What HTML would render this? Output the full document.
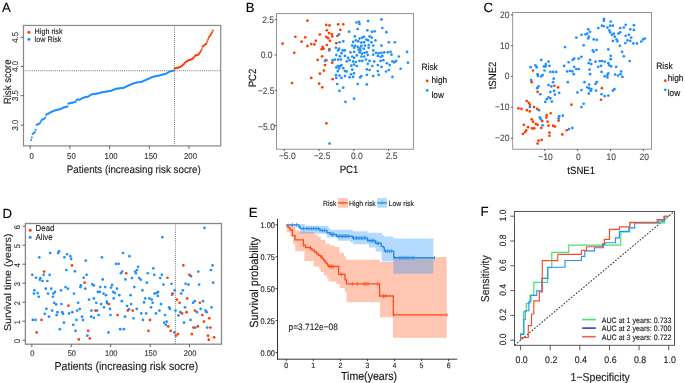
<!DOCTYPE html>
<html><head><meta charset="utf-8"><style>
html,body{margin:0;padding:0;background:#fff;}
svg{display:block;will-change:transform;}
text{font-family:"Liberation Sans", sans-serif;text-rendering:geometricPrecision;stroke:currentColor;stroke-width:0.12px;}
</style></head><body>
<svg width="685" height="383" viewBox="0 0 685 383">
<rect width="685" height="383" fill="#fff"/>
<text x="0" y="0" font-size="13.2" text-anchor="start" fill="#000" color="#000" transform="translate(2.00 12.30) scale(1.0 1.0)" stroke="#000" stroke-width="0.22">A</text>
<line x1="23.50" y1="70.75" x2="220.70" y2="70.75" stroke="#555" stroke-width="1.0" stroke-dasharray="0.8 1.3"/>
<line x1="174.50" y1="25.45" x2="174.50" y2="145.90" stroke="#555" stroke-width="1.0" stroke-dasharray="0.8 1.3"/>
<circle cx="30.99" cy="139.90" r="1.0" fill="#1E8FFF"/>
<circle cx="31.79" cy="137.45" r="1.0" fill="#1E8FFF"/>
<circle cx="32.58" cy="134.03" r="1.0" fill="#1E8FFF"/>
<circle cx="33.38" cy="133.37" r="1.0" fill="#1E8FFF"/>
<circle cx="34.17" cy="132.70" r="1.0" fill="#1E8FFF"/>
<circle cx="34.96" cy="132.03" r="1.0" fill="#1E8FFF"/>
<circle cx="35.76" cy="129.76" r="1.0" fill="#1E8FFF"/>
<circle cx="36.55" cy="124.76" r="1.0" fill="#1E8FFF"/>
<circle cx="37.35" cy="124.45" r="1.0" fill="#1E8FFF"/>
<circle cx="38.14" cy="124.15" r="1.0" fill="#1E8FFF"/>
<circle cx="38.93" cy="123.84" r="1.0" fill="#1E8FFF"/>
<circle cx="39.73" cy="123.53" r="1.0" fill="#1E8FFF"/>
<circle cx="40.52" cy="122.01" r="1.0" fill="#1E8FFF"/>
<circle cx="41.32" cy="120.38" r="1.0" fill="#1E8FFF"/>
<circle cx="42.11" cy="119.70" r="1.0" fill="#1E8FFF"/>
<circle cx="42.90" cy="119.30" r="1.0" fill="#1E8FFF"/>
<circle cx="43.70" cy="118.90" r="1.0" fill="#1E8FFF"/>
<circle cx="44.49" cy="118.50" r="1.0" fill="#1E8FFF"/>
<circle cx="45.29" cy="117.61" r="1.0" fill="#1E8FFF"/>
<circle cx="46.08" cy="115.08" r="1.0" fill="#1E8FFF"/>
<circle cx="46.87" cy="114.33" r="1.0" fill="#1E8FFF"/>
<circle cx="47.67" cy="113.90" r="1.0" fill="#1E8FFF"/>
<circle cx="48.46" cy="113.46" r="1.0" fill="#1E8FFF"/>
<circle cx="49.26" cy="113.03" r="1.0" fill="#1E8FFF"/>
<circle cx="50.05" cy="112.59" r="1.0" fill="#1E8FFF"/>
<circle cx="50.84" cy="112.16" r="1.0" fill="#1E8FFF"/>
<circle cx="51.64" cy="111.75" r="1.0" fill="#1E8FFF"/>
<circle cx="52.43" cy="111.44" r="1.0" fill="#1E8FFF"/>
<circle cx="53.23" cy="111.14" r="1.0" fill="#1E8FFF"/>
<circle cx="54.02" cy="110.83" r="1.0" fill="#1E8FFF"/>
<circle cx="54.81" cy="110.53" r="1.0" fill="#1E8FFF"/>
<circle cx="55.61" cy="110.23" r="1.0" fill="#1E8FFF"/>
<circle cx="56.40" cy="109.97" r="1.0" fill="#1E8FFF"/>
<circle cx="57.20" cy="109.83" r="1.0" fill="#1E8FFF"/>
<circle cx="57.99" cy="109.70" r="1.0" fill="#1E8FFF"/>
<circle cx="58.78" cy="109.57" r="1.0" fill="#1E8FFF"/>
<circle cx="59.58" cy="109.44" r="1.0" fill="#1E8FFF"/>
<circle cx="60.37" cy="109.11" r="1.0" fill="#1E8FFF"/>
<circle cx="61.17" cy="108.70" r="1.0" fill="#1E8FFF"/>
<circle cx="61.96" cy="108.29" r="1.0" fill="#1E8FFF"/>
<circle cx="62.75" cy="107.88" r="1.0" fill="#1E8FFF"/>
<circle cx="63.55" cy="107.55" r="1.0" fill="#1E8FFF"/>
<circle cx="64.34" cy="107.37" r="1.0" fill="#1E8FFF"/>
<circle cx="65.14" cy="107.20" r="1.0" fill="#1E8FFF"/>
<circle cx="65.93" cy="107.02" r="1.0" fill="#1E8FFF"/>
<circle cx="66.72" cy="106.85" r="1.0" fill="#1E8FFF"/>
<circle cx="67.52" cy="106.29" r="1.0" fill="#1E8FFF"/>
<circle cx="68.31" cy="103.60" r="1.0" fill="#1E8FFF"/>
<circle cx="69.11" cy="103.40" r="1.0" fill="#1E8FFF"/>
<circle cx="69.90" cy="103.21" r="1.0" fill="#1E8FFF"/>
<circle cx="70.69" cy="103.02" r="1.0" fill="#1E8FFF"/>
<circle cx="71.49" cy="102.83" r="1.0" fill="#1E8FFF"/>
<circle cx="72.28" cy="102.63" r="1.0" fill="#1E8FFF"/>
<circle cx="73.08" cy="102.44" r="1.0" fill="#1E8FFF"/>
<circle cx="73.87" cy="102.25" r="1.0" fill="#1E8FFF"/>
<circle cx="74.66" cy="102.05" r="1.0" fill="#1E8FFF"/>
<circle cx="75.46" cy="101.68" r="1.0" fill="#1E8FFF"/>
<circle cx="76.25" cy="100.58" r="1.0" fill="#1E8FFF"/>
<circle cx="77.05" cy="99.47" r="1.0" fill="#1E8FFF"/>
<circle cx="77.84" cy="99.47" r="1.0" fill="#1E8FFF"/>
<circle cx="78.63" cy="99.55" r="1.0" fill="#1E8FFF"/>
<circle cx="79.43" cy="99.63" r="1.0" fill="#1E8FFF"/>
<circle cx="80.22" cy="99.62" r="1.0" fill="#1E8FFF"/>
<circle cx="81.02" cy="99.12" r="1.0" fill="#1E8FFF"/>
<circle cx="81.81" cy="98.62" r="1.0" fill="#1E8FFF"/>
<circle cx="82.60" cy="98.12" r="1.0" fill="#1E8FFF"/>
<circle cx="83.40" cy="97.82" r="1.0" fill="#1E8FFF"/>
<circle cx="84.19" cy="97.59" r="1.0" fill="#1E8FFF"/>
<circle cx="84.99" cy="97.35" r="1.0" fill="#1E8FFF"/>
<circle cx="85.78" cy="97.12" r="1.0" fill="#1E8FFF"/>
<circle cx="86.57" cy="96.89" r="1.0" fill="#1E8FFF"/>
<circle cx="87.37" cy="96.65" r="1.0" fill="#1E8FFF"/>
<circle cx="88.16" cy="96.42" r="1.0" fill="#1E8FFF"/>
<circle cx="88.96" cy="96.16" r="1.0" fill="#1E8FFF"/>
<circle cx="89.75" cy="95.61" r="1.0" fill="#1E8FFF"/>
<circle cx="90.54" cy="95.06" r="1.0" fill="#1E8FFF"/>
<circle cx="91.34" cy="94.51" r="1.0" fill="#1E8FFF"/>
<circle cx="92.13" cy="94.30" r="1.0" fill="#1E8FFF"/>
<circle cx="92.93" cy="94.18" r="1.0" fill="#1E8FFF"/>
<circle cx="93.72" cy="94.06" r="1.0" fill="#1E8FFF"/>
<circle cx="94.51" cy="93.95" r="1.0" fill="#1E8FFF"/>
<circle cx="95.31" cy="93.83" r="1.0" fill="#1E8FFF"/>
<circle cx="96.10" cy="93.71" r="1.0" fill="#1E8FFF"/>
<circle cx="96.90" cy="93.58" r="1.0" fill="#1E8FFF"/>
<circle cx="97.69" cy="93.38" r="1.0" fill="#1E8FFF"/>
<circle cx="98.48" cy="93.18" r="1.0" fill="#1E8FFF"/>
<circle cx="99.28" cy="92.98" r="1.0" fill="#1E8FFF"/>
<circle cx="100.07" cy="92.78" r="1.0" fill="#1E8FFF"/>
<circle cx="100.87" cy="92.58" r="1.0" fill="#1E8FFF"/>
<circle cx="101.66" cy="92.38" r="1.0" fill="#1E8FFF"/>
<circle cx="102.45" cy="92.23" r="1.0" fill="#1E8FFF"/>
<circle cx="103.25" cy="92.10" r="1.0" fill="#1E8FFF"/>
<circle cx="104.04" cy="91.98" r="1.0" fill="#1E8FFF"/>
<circle cx="104.84" cy="91.85" r="1.0" fill="#1E8FFF"/>
<circle cx="105.63" cy="91.72" r="1.0" fill="#1E8FFF"/>
<circle cx="106.42" cy="91.60" r="1.0" fill="#1E8FFF"/>
<circle cx="107.22" cy="91.47" r="1.0" fill="#1E8FFF"/>
<circle cx="108.01" cy="91.34" r="1.0" fill="#1E8FFF"/>
<circle cx="108.81" cy="91.22" r="1.0" fill="#1E8FFF"/>
<circle cx="109.60" cy="91.09" r="1.0" fill="#1E8FFF"/>
<circle cx="110.39" cy="90.96" r="1.0" fill="#1E8FFF"/>
<circle cx="111.19" cy="90.74" r="1.0" fill="#1E8FFF"/>
<circle cx="111.98" cy="90.42" r="1.0" fill="#1E8FFF"/>
<circle cx="112.78" cy="90.10" r="1.0" fill="#1E8FFF"/>
<circle cx="113.57" cy="89.78" r="1.0" fill="#1E8FFF"/>
<circle cx="114.36" cy="89.46" r="1.0" fill="#1E8FFF"/>
<circle cx="115.16" cy="89.14" r="1.0" fill="#1E8FFF"/>
<circle cx="115.95" cy="88.82" r="1.0" fill="#1E8FFF"/>
<circle cx="116.75" cy="88.70" r="1.0" fill="#1E8FFF"/>
<circle cx="117.54" cy="88.60" r="1.0" fill="#1E8FFF"/>
<circle cx="118.33" cy="88.50" r="1.0" fill="#1E8FFF"/>
<circle cx="119.13" cy="88.40" r="1.0" fill="#1E8FFF"/>
<circle cx="119.92" cy="88.30" r="1.0" fill="#1E8FFF"/>
<circle cx="120.72" cy="88.20" r="1.0" fill="#1E8FFF"/>
<circle cx="121.51" cy="88.09" r="1.0" fill="#1E8FFF"/>
<circle cx="122.30" cy="87.99" r="1.0" fill="#1E8FFF"/>
<circle cx="123.10" cy="87.89" r="1.0" fill="#1E8FFF"/>
<circle cx="123.89" cy="87.75" r="1.0" fill="#1E8FFF"/>
<circle cx="124.69" cy="87.36" r="1.0" fill="#1E8FFF"/>
<circle cx="125.48" cy="86.97" r="1.0" fill="#1E8FFF"/>
<circle cx="126.27" cy="86.58" r="1.0" fill="#1E8FFF"/>
<circle cx="127.07" cy="86.19" r="1.0" fill="#1E8FFF"/>
<circle cx="127.86" cy="85.80" r="1.0" fill="#1E8FFF"/>
<circle cx="128.66" cy="85.41" r="1.0" fill="#1E8FFF"/>
<circle cx="129.45" cy="85.02" r="1.0" fill="#1E8FFF"/>
<circle cx="130.24" cy="84.68" r="1.0" fill="#1E8FFF"/>
<circle cx="131.04" cy="84.39" r="1.0" fill="#1E8FFF"/>
<circle cx="131.83" cy="84.10" r="1.0" fill="#1E8FFF"/>
<circle cx="132.63" cy="83.82" r="1.0" fill="#1E8FFF"/>
<circle cx="133.42" cy="83.53" r="1.0" fill="#1E8FFF"/>
<circle cx="134.21" cy="83.24" r="1.0" fill="#1E8FFF"/>
<circle cx="135.01" cy="82.96" r="1.0" fill="#1E8FFF"/>
<circle cx="135.80" cy="82.67" r="1.0" fill="#1E8FFF"/>
<circle cx="136.60" cy="82.53" r="1.0" fill="#1E8FFF"/>
<circle cx="137.39" cy="82.44" r="1.0" fill="#1E8FFF"/>
<circle cx="138.18" cy="82.35" r="1.0" fill="#1E8FFF"/>
<circle cx="138.98" cy="82.26" r="1.0" fill="#1E8FFF"/>
<circle cx="139.77" cy="82.17" r="1.0" fill="#1E8FFF"/>
<circle cx="140.57" cy="82.08" r="1.0" fill="#1E8FFF"/>
<circle cx="141.36" cy="81.97" r="1.0" fill="#1E8FFF"/>
<circle cx="142.15" cy="81.60" r="1.0" fill="#1E8FFF"/>
<circle cx="142.95" cy="81.23" r="1.0" fill="#1E8FFF"/>
<circle cx="143.74" cy="80.86" r="1.0" fill="#1E8FFF"/>
<circle cx="144.54" cy="80.49" r="1.0" fill="#1E8FFF"/>
<circle cx="145.33" cy="80.13" r="1.0" fill="#1E8FFF"/>
<circle cx="146.12" cy="79.77" r="1.0" fill="#1E8FFF"/>
<circle cx="146.92" cy="79.42" r="1.0" fill="#1E8FFF"/>
<circle cx="147.71" cy="79.08" r="1.0" fill="#1E8FFF"/>
<circle cx="148.51" cy="78.73" r="1.0" fill="#1E8FFF"/>
<circle cx="149.30" cy="78.38" r="1.0" fill="#1E8FFF"/>
<circle cx="150.09" cy="78.04" r="1.0" fill="#1E8FFF"/>
<circle cx="150.89" cy="77.69" r="1.0" fill="#1E8FFF"/>
<circle cx="151.68" cy="77.34" r="1.0" fill="#1E8FFF"/>
<circle cx="152.48" cy="77.00" r="1.0" fill="#1E8FFF"/>
<circle cx="153.27" cy="76.78" r="1.0" fill="#1E8FFF"/>
<circle cx="154.06" cy="76.61" r="1.0" fill="#1E8FFF"/>
<circle cx="154.86" cy="76.44" r="1.0" fill="#1E8FFF"/>
<circle cx="155.65" cy="76.27" r="1.0" fill="#1E8FFF"/>
<circle cx="156.45" cy="76.10" r="1.0" fill="#1E8FFF"/>
<circle cx="157.24" cy="75.93" r="1.0" fill="#1E8FFF"/>
<circle cx="158.03" cy="75.76" r="1.0" fill="#1E8FFF"/>
<circle cx="158.83" cy="75.59" r="1.0" fill="#1E8FFF"/>
<circle cx="159.62" cy="75.39" r="1.0" fill="#1E8FFF"/>
<circle cx="160.42" cy="75.18" r="1.0" fill="#1E8FFF"/>
<circle cx="161.21" cy="74.98" r="1.0" fill="#1E8FFF"/>
<circle cx="162.00" cy="74.78" r="1.0" fill="#1E8FFF"/>
<circle cx="162.80" cy="74.57" r="1.0" fill="#1E8FFF"/>
<circle cx="163.59" cy="74.37" r="1.0" fill="#1E8FFF"/>
<circle cx="164.39" cy="74.16" r="1.0" fill="#1E8FFF"/>
<circle cx="165.18" cy="73.96" r="1.0" fill="#1E8FFF"/>
<circle cx="165.97" cy="73.69" r="1.0" fill="#1E8FFF"/>
<circle cx="166.77" cy="73.17" r="1.0" fill="#1E8FFF"/>
<circle cx="167.56" cy="72.65" r="1.0" fill="#1E8FFF"/>
<circle cx="168.36" cy="72.13" r="1.0" fill="#1E8FFF"/>
<circle cx="169.15" cy="71.87" r="1.0" fill="#1E8FFF"/>
<circle cx="169.94" cy="71.62" r="1.0" fill="#1E8FFF"/>
<circle cx="170.74" cy="71.37" r="1.0" fill="#1E8FFF"/>
<circle cx="171.53" cy="71.12" r="1.0" fill="#1E8FFF"/>
<circle cx="172.33" cy="70.88" r="1.0" fill="#1E8FFF"/>
<circle cx="173.12" cy="70.63" r="1.0" fill="#1E8FFF"/>
<circle cx="173.91" cy="70.38" r="1.0" fill="#1E8FFF"/>
<circle cx="174.71" cy="68.50" r="1.0" fill="#FF3B00"/>
<circle cx="175.50" cy="68.29" r="1.0" fill="#FF3B00"/>
<circle cx="176.30" cy="68.08" r="1.0" fill="#FF3B00"/>
<circle cx="177.09" cy="67.87" r="1.0" fill="#FF3B00"/>
<circle cx="177.88" cy="67.66" r="1.0" fill="#FF3B00"/>
<circle cx="178.68" cy="67.45" r="1.0" fill="#FF3B00"/>
<circle cx="179.47" cy="67.24" r="1.0" fill="#FF3B00"/>
<circle cx="180.27" cy="67.04" r="1.0" fill="#FF3B00"/>
<circle cx="181.06" cy="66.46" r="1.0" fill="#FF3B00"/>
<circle cx="181.85" cy="65.82" r="1.0" fill="#FF3B00"/>
<circle cx="182.65" cy="65.17" r="1.0" fill="#FF3B00"/>
<circle cx="183.44" cy="64.46" r="1.0" fill="#FF3B00"/>
<circle cx="184.24" cy="63.66" r="1.0" fill="#FF3B00"/>
<circle cx="185.03" cy="62.87" r="1.0" fill="#FF3B00"/>
<circle cx="185.82" cy="62.08" r="1.0" fill="#FF3B00"/>
<circle cx="186.62" cy="61.40" r="1.0" fill="#FF3B00"/>
<circle cx="187.41" cy="60.92" r="1.0" fill="#FF3B00"/>
<circle cx="188.21" cy="60.43" r="1.0" fill="#FF3B00"/>
<circle cx="189.00" cy="59.98" r="1.0" fill="#FF3B00"/>
<circle cx="189.79" cy="59.86" r="1.0" fill="#FF3B00"/>
<circle cx="190.59" cy="59.74" r="1.0" fill="#FF3B00"/>
<circle cx="191.38" cy="59.62" r="1.0" fill="#FF3B00"/>
<circle cx="192.18" cy="58.95" r="1.0" fill="#FF3B00"/>
<circle cx="192.97" cy="58.18" r="1.0" fill="#FF3B00"/>
<circle cx="193.76" cy="57.42" r="1.0" fill="#FF3B00"/>
<circle cx="194.56" cy="56.53" r="1.0" fill="#FF3B00"/>
<circle cx="195.35" cy="55.49" r="1.0" fill="#FF3B00"/>
<circle cx="196.15" cy="55.23" r="1.0" fill="#FF3B00"/>
<circle cx="196.94" cy="55.13" r="1.0" fill="#FF3B00"/>
<circle cx="197.73" cy="55.04" r="1.0" fill="#FF3B00"/>
<circle cx="198.53" cy="54.40" r="1.0" fill="#FF3B00"/>
<circle cx="199.32" cy="53.28" r="1.0" fill="#FF3B00"/>
<circle cx="200.12" cy="52.17" r="1.0" fill="#FF3B00"/>
<circle cx="200.91" cy="51.05" r="1.0" fill="#FF3B00"/>
<circle cx="201.70" cy="49.26" r="1.0" fill="#FF3B00"/>
<circle cx="202.50" cy="46.81" r="1.0" fill="#FF3B00"/>
<circle cx="203.29" cy="45.95" r="1.0" fill="#FF3B00"/>
<circle cx="204.09" cy="45.31" r="1.0" fill="#FF3B00"/>
<circle cx="204.88" cy="44.68" r="1.0" fill="#FF3B00"/>
<circle cx="205.67" cy="44.04" r="1.0" fill="#FF3B00"/>
<circle cx="206.47" cy="43.41" r="1.0" fill="#FF3B00"/>
<circle cx="207.26" cy="41.62" r="1.0" fill="#FF3B00"/>
<circle cx="208.06" cy="39.51" r="1.0" fill="#FF3B00"/>
<circle cx="208.85" cy="37.52" r="1.0" fill="#FF3B00"/>
<circle cx="209.64" cy="36.21" r="1.0" fill="#FF3B00"/>
<circle cx="210.44" cy="34.90" r="1.0" fill="#FF3B00"/>
<circle cx="211.23" cy="33.67" r="1.0" fill="#FF3B00"/>
<circle cx="212.03" cy="32.32" r="1.0" fill="#FF3B00"/>
<circle cx="212.82" cy="30.62" r="1.0" fill="#FF3B00"/>
<rect x="23.50" y="25.45" width="197.20" height="120.45" stroke="#888" fill="none" stroke-width="1.2"/>
<line x1="20.50" y1="37.30" x2="23.50" y2="37.30" stroke="#444" stroke-width="0.8"/>
<text x="0" y="0" font-size="7.8" text-anchor="middle" fill="#333" color="#333" transform="translate(18.40 37.30) rotate(-90) scale(1.0 1.1)">4.5</text>
<line x1="20.50" y1="66.40" x2="23.50" y2="66.40" stroke="#444" stroke-width="0.8"/>
<text x="0" y="0" font-size="7.8" text-anchor="middle" fill="#333" color="#333" transform="translate(18.40 66.40) rotate(-90) scale(1.0 1.1)">4.0</text>
<line x1="20.50" y1="95.70" x2="23.50" y2="95.70" stroke="#444" stroke-width="0.8"/>
<text x="0" y="0" font-size="7.8" text-anchor="middle" fill="#333" color="#333" transform="translate(18.40 95.70) rotate(-90) scale(1.0 1.1)">3.5</text>
<line x1="20.50" y1="125.20" x2="23.50" y2="125.20" stroke="#444" stroke-width="0.8"/>
<text x="0" y="0" font-size="7.8" text-anchor="middle" fill="#333" color="#333" transform="translate(18.40 125.20) rotate(-90) scale(1.0 1.1)">3.0</text>
<line x1="30.20" y1="145.90" x2="30.20" y2="148.90" stroke="#444" stroke-width="0.8"/>
<text x="0" y="0" font-size="7.8" text-anchor="middle" fill="#333" color="#333" transform="translate(31.70 159.00) scale(1.0 1.1)">0</text>
<line x1="69.90" y1="145.90" x2="69.90" y2="148.90" stroke="#444" stroke-width="0.8"/>
<text x="0" y="0" font-size="7.8" text-anchor="middle" fill="#333" color="#333" transform="translate(71.40 159.00) scale(1.0 1.1)">50</text>
<line x1="109.60" y1="145.90" x2="109.60" y2="148.90" stroke="#444" stroke-width="0.8"/>
<text x="0" y="0" font-size="7.8" text-anchor="middle" fill="#333" color="#333" transform="translate(111.10 159.00) scale(1.0 1.1)">100</text>
<line x1="149.30" y1="145.90" x2="149.30" y2="148.90" stroke="#444" stroke-width="0.8"/>
<text x="0" y="0" font-size="7.8" text-anchor="middle" fill="#333" color="#333" transform="translate(150.80 159.00) scale(1.0 1.1)">150</text>
<line x1="189.00" y1="145.90" x2="189.00" y2="148.90" stroke="#444" stroke-width="0.8"/>
<text x="0" y="0" font-size="7.8" text-anchor="middle" fill="#333" color="#333" transform="translate(190.50 159.00) scale(1.0 1.1)">200</text>
<text x="0" y="0" font-size="9.8" text-anchor="middle" fill="#222" color="#222" transform="translate(133.80 172.60) scale(1.0 1.1)">Patients (increasing risk socre)</text>
<text x="0" y="0" font-size="9.6" text-anchor="middle" fill="#222" color="#222" transform="translate(10.50 81.80) rotate(-90) scale(1.0 1.1)">Risk score</text>
<circle cx="28.90" cy="32.20" r="1.5" fill="#FF3B00"/>
<circle cx="28.90" cy="39.20" r="1.5" fill="#1E8FFF"/>
<text x="0" y="0" font-size="7.2" text-anchor="start" fill="#222" color="#222" transform="translate(34.60 34.00) scale(1.0 1.1)">High risk</text>
<text x="0" y="0" font-size="7.2" text-anchor="start" fill="#222" color="#222" transform="translate(34.60 42.10) scale(1.0 1.1)">low Risk</text>
<text x="0" y="0" font-size="13.2" text-anchor="start" fill="#000" color="#000" transform="translate(245.70 12.00) scale(1.0 1.0)" stroke="#000" stroke-width="0.22">B</text>
<circle cx="307.44" cy="20.68" r="1.35" fill="#FF3B00"/>
<circle cx="326.26" cy="24.88" r="1.35" fill="#FF3B00"/>
<circle cx="329.55" cy="25.43" r="1.35" fill="#FF3B00"/>
<circle cx="338.14" cy="24.33" r="1.35" fill="#FF3B00"/>
<circle cx="343.26" cy="24.33" r="1.35" fill="#FF3B00"/>
<circle cx="340.33" cy="29.81" r="1.35" fill="#FF3B00"/>
<circle cx="326.81" cy="30.36" r="1.35" fill="#FF3B00"/>
<circle cx="329.00" cy="33.10" r="1.35" fill="#FF3B00"/>
<circle cx="331.74" cy="34.02" r="1.35" fill="#FF3B00"/>
<circle cx="319.86" cy="34.57" r="1.35" fill="#FF3B00"/>
<circle cx="326.26" cy="36.76" r="1.35" fill="#FF3B00"/>
<circle cx="328.09" cy="38.22" r="1.35" fill="#FF3B00"/>
<circle cx="332.29" cy="36.39" r="1.35" fill="#FF3B00"/>
<circle cx="337.41" cy="35.85" r="1.35" fill="#FF3B00"/>
<circle cx="295.37" cy="36.76" r="1.35" fill="#FF3B00"/>
<circle cx="305.24" cy="37.31" r="1.35" fill="#FF3B00"/>
<circle cx="301.59" cy="41.69" r="1.35" fill="#FF3B00"/>
<circle cx="315.84" cy="40.96" r="1.35" fill="#FF3B00"/>
<circle cx="329.92" cy="40.78" r="1.35" fill="#FF3B00"/>
<circle cx="311.27" cy="44.07" r="1.35" fill="#FF3B00"/>
<circle cx="314.38" cy="44.44" r="1.35" fill="#FF3B00"/>
<circle cx="307.44" cy="45.90" r="1.35" fill="#FF3B00"/>
<circle cx="326.81" cy="44.98" r="1.35" fill="#FF3B00"/>
<circle cx="336.31" cy="43.16" r="1.35" fill="#FF3B00"/>
<circle cx="322.61" cy="46.81" r="1.35" fill="#FF3B00"/>
<circle cx="323.52" cy="48.64" r="1.35" fill="#FF3B00"/>
<circle cx="321.69" cy="49.19" r="1.35" fill="#FF3B00"/>
<circle cx="329.37" cy="49.19" r="1.35" fill="#FF3B00"/>
<circle cx="282.58" cy="43.70" r="1.35" fill="#FF3B00"/>
<circle cx="294.28" cy="52.84" r="1.35" fill="#FF3B00"/>
<circle cx="322.06" cy="56.32" r="1.35" fill="#FF3B00"/>
<circle cx="317.67" cy="59.97" r="1.35" fill="#FF3B00"/>
<circle cx="326.26" cy="60.15" r="1.35" fill="#FF3B00"/>
<circle cx="332.29" cy="62.71" r="1.35" fill="#FF3B00"/>
<circle cx="324.98" cy="65.09" r="1.35" fill="#FF3B00"/>
<circle cx="323.89" cy="70.57" r="1.35" fill="#FF3B00"/>
<circle cx="319.86" cy="73.68" r="1.35" fill="#FF3B00"/>
<circle cx="311.27" cy="77.88" r="1.35" fill="#FF3B00"/>
<circle cx="332.66" cy="79.16" r="1.35" fill="#FF3B00"/>
<circle cx="292.08" cy="83.11" r="1.35" fill="#FF3B00"/>
<circle cx="319.13" cy="83.66" r="1.35" fill="#FF3B00"/>
<circle cx="322.24" cy="87.31" r="1.35" fill="#FF3B00"/>
<circle cx="326.44" cy="123.32" r="1.35" fill="#FF3B00"/>
<circle cx="339.05" cy="34.38" r="1.35" fill="#1E8FFF"/>
<circle cx="339.60" cy="42.24" r="1.35" fill="#1E8FFF"/>
<circle cx="343.26" cy="41.33" r="1.35" fill="#1E8FFF"/>
<circle cx="335.95" cy="47.73" r="1.35" fill="#1E8FFF"/>
<circle cx="339.05" cy="48.64" r="1.35" fill="#1E8FFF"/>
<circle cx="338.14" cy="50.47" r="1.35" fill="#1E8FFF"/>
<circle cx="342.71" cy="50.47" r="1.35" fill="#1E8FFF"/>
<circle cx="329.37" cy="50.47" r="1.35" fill="#1E8FFF"/>
<circle cx="341.43" cy="53.21" r="1.35" fill="#1E8FFF"/>
<circle cx="336.31" cy="55.04" r="1.35" fill="#1E8FFF"/>
<circle cx="339.97" cy="56.32" r="1.35" fill="#1E8FFF"/>
<circle cx="332.66" cy="60.15" r="1.35" fill="#1E8FFF"/>
<circle cx="334.85" cy="59.61" r="1.35" fill="#1E8FFF"/>
<circle cx="338.14" cy="59.61" r="1.35" fill="#1E8FFF"/>
<circle cx="340.88" cy="59.61" r="1.35" fill="#1E8FFF"/>
<circle cx="324.98" cy="60.89" r="1.35" fill="#1E8FFF"/>
<circle cx="337.78" cy="66.00" r="1.35" fill="#1E8FFF"/>
<circle cx="339.97" cy="66.37" r="1.35" fill="#1E8FFF"/>
<circle cx="341.43" cy="65.09" r="1.35" fill="#1E8FFF"/>
<circle cx="336.31" cy="67.46" r="1.35" fill="#1E8FFF"/>
<circle cx="339.05" cy="68.38" r="1.35" fill="#1E8FFF"/>
<circle cx="343.26" cy="68.20" r="1.35" fill="#1E8FFF"/>
<circle cx="337.78" cy="71.12" r="1.35" fill="#1E8FFF"/>
<circle cx="335.95" cy="75.14" r="1.35" fill="#1E8FFF"/>
<circle cx="339.60" cy="75.51" r="1.35" fill="#1E8FFF"/>
<circle cx="336.31" cy="77.88" r="1.35" fill="#1E8FFF"/>
<circle cx="341.43" cy="77.88" r="1.35" fill="#1E8FFF"/>
<circle cx="381.47" cy="19.40" r="1.35" fill="#1E8FFF"/>
<circle cx="368.13" cy="21.04" r="1.35" fill="#1E8FFF"/>
<circle cx="356.43" cy="22.50" r="1.35" fill="#1E8FFF"/>
<circle cx="358.99" cy="21.77" r="1.35" fill="#1E8FFF"/>
<circle cx="359.54" cy="23.97" r="1.35" fill="#1E8FFF"/>
<circle cx="357.71" cy="29.08" r="1.35" fill="#1E8FFF"/>
<circle cx="367.39" cy="30.36" r="1.35" fill="#1E8FFF"/>
<circle cx="371.96" cy="31.83" r="1.35" fill="#1E8FFF"/>
<circle cx="374.70" cy="31.28" r="1.35" fill="#1E8FFF"/>
<circle cx="382.38" cy="27.99" r="1.35" fill="#1E8FFF"/>
<circle cx="386.40" cy="32.19" r="1.35" fill="#1E8FFF"/>
<circle cx="349.12" cy="31.64" r="1.35" fill="#1E8FFF"/>
<circle cx="354.97" cy="36.39" r="1.35" fill="#1E8FFF"/>
<circle cx="359.54" cy="38.59" r="1.35" fill="#1E8FFF"/>
<circle cx="362.28" cy="37.67" r="1.35" fill="#1E8FFF"/>
<circle cx="364.10" cy="36.76" r="1.35" fill="#1E8FFF"/>
<circle cx="369.59" cy="36.39" r="1.35" fill="#1E8FFF"/>
<circle cx="371.78" cy="37.67" r="1.35" fill="#1E8FFF"/>
<circle cx="366.30" cy="39.50" r="1.35" fill="#1E8FFF"/>
<circle cx="368.13" cy="40.42" r="1.35" fill="#1E8FFF"/>
<circle cx="353.14" cy="41.88" r="1.35" fill="#1E8FFF"/>
<circle cx="355.88" cy="40.42" r="1.35" fill="#1E8FFF"/>
<circle cx="358.26" cy="41.33" r="1.35" fill="#1E8FFF"/>
<circle cx="361.36" cy="42.61" r="1.35" fill="#1E8FFF"/>
<circle cx="364.10" cy="42.24" r="1.35" fill="#1E8FFF"/>
<circle cx="371.42" cy="42.24" r="1.35" fill="#1E8FFF"/>
<circle cx="375.44" cy="40.42" r="1.35" fill="#1E8FFF"/>
<circle cx="388.78" cy="42.24" r="1.35" fill="#1E8FFF"/>
<circle cx="394.81" cy="42.24" r="1.35" fill="#1E8FFF"/>
<circle cx="352.22" cy="45.53" r="1.35" fill="#1E8FFF"/>
<circle cx="354.97" cy="45.90" r="1.35" fill="#1E8FFF"/>
<circle cx="357.71" cy="46.81" r="1.35" fill="#1E8FFF"/>
<circle cx="361.36" cy="45.90" r="1.35" fill="#1E8FFF"/>
<circle cx="365.02" cy="45.53" r="1.35" fill="#1E8FFF"/>
<circle cx="368.67" cy="44.98" r="1.35" fill="#1E8FFF"/>
<circle cx="373.24" cy="45.53" r="1.35" fill="#1E8FFF"/>
<circle cx="381.47" cy="45.53" r="1.35" fill="#1E8FFF"/>
<circle cx="354.05" cy="47.73" r="1.35" fill="#1E8FFF"/>
<circle cx="360.08" cy="48.09" r="1.35" fill="#1E8FFF"/>
<circle cx="363.74" cy="48.64" r="1.35" fill="#1E8FFF"/>
<circle cx="368.67" cy="47.73" r="1.35" fill="#1E8FFF"/>
<circle cx="360.45" cy="50.47" r="1.35" fill="#1E8FFF"/>
<circle cx="358.62" cy="49.55" r="1.35" fill="#1E8FFF"/>
<circle cx="350.40" cy="52.30" r="1.35" fill="#1E8FFF"/>
<circle cx="354.05" cy="51.75" r="1.35" fill="#1E8FFF"/>
<circle cx="359.54" cy="52.30" r="1.35" fill="#1E8FFF"/>
<circle cx="361.91" cy="53.57" r="1.35" fill="#1E8FFF"/>
<circle cx="364.47" cy="52.84" r="1.35" fill="#1E8FFF"/>
<circle cx="366.85" cy="52.30" r="1.35" fill="#1E8FFF"/>
<circle cx="373.24" cy="50.47" r="1.35" fill="#1E8FFF"/>
<circle cx="375.98" cy="52.84" r="1.35" fill="#1E8FFF"/>
<circle cx="378.73" cy="53.21" r="1.35" fill="#1E8FFF"/>
<circle cx="381.47" cy="52.84" r="1.35" fill="#1E8FFF"/>
<circle cx="384.21" cy="52.30" r="1.35" fill="#1E8FFF"/>
<circle cx="387.86" cy="52.30" r="1.35" fill="#1E8FFF"/>
<circle cx="390.61" cy="51.75" r="1.35" fill="#1E8FFF"/>
<circle cx="407.05" cy="51.93" r="1.35" fill="#1E8FFF"/>
<circle cx="344.91" cy="50.47" r="1.35" fill="#1E8FFF"/>
<circle cx="344.91" cy="55.95" r="1.35" fill="#1E8FFF"/>
<circle cx="348.02" cy="57.78" r="1.35" fill="#1E8FFF"/>
<circle cx="352.22" cy="56.50" r="1.35" fill="#1E8FFF"/>
<circle cx="354.05" cy="57.78" r="1.35" fill="#1E8FFF"/>
<circle cx="356.79" cy="55.40" r="1.35" fill="#1E8FFF"/>
<circle cx="361.36" cy="56.50" r="1.35" fill="#1E8FFF"/>
<circle cx="364.10" cy="56.50" r="1.35" fill="#1E8FFF"/>
<circle cx="367.76" cy="55.04" r="1.35" fill="#1E8FFF"/>
<circle cx="373.24" cy="54.67" r="1.35" fill="#1E8FFF"/>
<circle cx="377.81" cy="55.95" r="1.35" fill="#1E8FFF"/>
<circle cx="380.55" cy="56.86" r="1.35" fill="#1E8FFF"/>
<circle cx="382.38" cy="55.95" r="1.35" fill="#1E8FFF"/>
<circle cx="391.52" cy="54.67" r="1.35" fill="#1E8FFF"/>
<circle cx="398.83" cy="56.50" r="1.35" fill="#1E8FFF"/>
<circle cx="346.74" cy="61.43" r="1.35" fill="#1E8FFF"/>
<circle cx="349.48" cy="60.15" r="1.35" fill="#1E8FFF"/>
<circle cx="353.14" cy="61.43" r="1.35" fill="#1E8FFF"/>
<circle cx="355.88" cy="61.98" r="1.35" fill="#1E8FFF"/>
<circle cx="359.54" cy="60.89" r="1.35" fill="#1E8FFF"/>
<circle cx="362.28" cy="60.89" r="1.35" fill="#1E8FFF"/>
<circle cx="365.93" cy="59.61" r="1.35" fill="#1E8FFF"/>
<circle cx="369.59" cy="60.89" r="1.35" fill="#1E8FFF"/>
<circle cx="374.16" cy="61.43" r="1.35" fill="#1E8FFF"/>
<circle cx="380.55" cy="60.89" r="1.35" fill="#1E8FFF"/>
<circle cx="383.30" cy="60.15" r="1.35" fill="#1E8FFF"/>
<circle cx="386.95" cy="63.26" r="1.35" fill="#1E8FFF"/>
<circle cx="392.43" cy="61.43" r="1.35" fill="#1E8FFF"/>
<circle cx="394.26" cy="62.35" r="1.35" fill="#1E8FFF"/>
<circle cx="396.09" cy="60.89" r="1.35" fill="#1E8FFF"/>
<circle cx="407.97" cy="62.71" r="1.35" fill="#1E8FFF"/>
<circle cx="351.31" cy="65.64" r="1.35" fill="#1E8FFF"/>
<circle cx="354.05" cy="64.54" r="1.35" fill="#1E8FFF"/>
<circle cx="356.79" cy="66.00" r="1.35" fill="#1E8FFF"/>
<circle cx="367.76" cy="63.81" r="1.35" fill="#1E8FFF"/>
<circle cx="372.33" cy="66.00" r="1.35" fill="#1E8FFF"/>
<circle cx="377.81" cy="65.09" r="1.35" fill="#1E8FFF"/>
<circle cx="381.47" cy="66.92" r="1.35" fill="#1E8FFF"/>
<circle cx="389.69" cy="65.09" r="1.35" fill="#1E8FFF"/>
<circle cx="400.66" cy="68.74" r="1.35" fill="#1E8FFF"/>
<circle cx="344.91" cy="71.12" r="1.35" fill="#1E8FFF"/>
<circle cx="346.74" cy="71.49" r="1.35" fill="#1E8FFF"/>
<circle cx="352.22" cy="69.66" r="1.35" fill="#1E8FFF"/>
<circle cx="366.85" cy="69.29" r="1.35" fill="#1E8FFF"/>
<circle cx="369.59" cy="70.02" r="1.35" fill="#1E8FFF"/>
<circle cx="377.81" cy="71.12" r="1.35" fill="#1E8FFF"/>
<circle cx="386.04" cy="71.49" r="1.35" fill="#1E8FFF"/>
<circle cx="388.78" cy="70.02" r="1.35" fill="#1E8FFF"/>
<circle cx="350.95" cy="74.23" r="1.35" fill="#1E8FFF"/>
<circle cx="354.05" cy="73.31" r="1.35" fill="#1E8FFF"/>
<circle cx="366.85" cy="74.78" r="1.35" fill="#1E8FFF"/>
<circle cx="373.24" cy="76.05" r="1.35" fill="#1E8FFF"/>
<circle cx="378.73" cy="74.78" r="1.35" fill="#1E8FFF"/>
<circle cx="344.91" cy="76.05" r="1.35" fill="#1E8FFF"/>
<circle cx="349.48" cy="77.33" r="1.35" fill="#1E8FFF"/>
<circle cx="353.14" cy="76.97" r="1.35" fill="#1E8FFF"/>
<circle cx="360.08" cy="77.33" r="1.35" fill="#1E8FFF"/>
<circle cx="361.36" cy="76.05" r="1.35" fill="#1E8FFF"/>
<circle cx="392.43" cy="76.97" r="1.35" fill="#1E8FFF"/>
<circle cx="337.23" cy="84.02" r="1.35" fill="#1E8FFF"/>
<circle cx="343.26" cy="87.68" r="1.35" fill="#1E8FFF"/>
<circle cx="339.42" cy="90.97" r="1.35" fill="#1E8FFF"/>
<circle cx="345.45" cy="101.93" r="1.35" fill="#1E8FFF"/>
<circle cx="329.55" cy="143.60" r="1.35" fill="#1E8FFF"/>
<circle cx="357.71" cy="84.02" r="1.35" fill="#1E8FFF"/>
<circle cx="366.85" cy="84.39" r="1.35" fill="#1E8FFF"/>
<circle cx="354.05" cy="98.64" r="1.35" fill="#1E8FFF"/>
<rect x="276.50" y="13.60" width="137.10" height="135.60" stroke="#888" fill="none" stroke-width="0.9"/>
<line x1="284.30" y1="149.20" x2="284.30" y2="151.00" stroke="#333" stroke-width="0.8"/>
<text x="0" y="0" font-size="8.5" text-anchor="middle" fill="#4D4D4D" color="#4D4D4D" transform="translate(287.30 159.40) scale(1.0 1.1)">−5.0</text>
<line x1="274.70" y1="125.60" x2="276.50" y2="125.60" stroke="#333" stroke-width="0.8"/>
<text x="0" y="0" font-size="8.5" text-anchor="end" fill="#4D4D4D" color="#4D4D4D" transform="translate(274.90 129.50) scale(1.0 1.1)">−5.0</text>
<line x1="319.05" y1="149.20" x2="319.05" y2="151.00" stroke="#333" stroke-width="0.8"/>
<text x="0" y="0" font-size="8.5" text-anchor="middle" fill="#4D4D4D" color="#4D4D4D" transform="translate(322.05 159.40) scale(1.0 1.1)">−2.5</text>
<line x1="274.70" y1="90.30" x2="276.50" y2="90.30" stroke="#333" stroke-width="0.8"/>
<text x="0" y="0" font-size="8.5" text-anchor="end" fill="#4D4D4D" color="#4D4D4D" transform="translate(274.60 94.20) scale(1.0 1.1)">−2.5</text>
<line x1="353.80" y1="149.20" x2="353.80" y2="151.00" stroke="#333" stroke-width="0.8"/>
<text x="0" y="0" font-size="8.5" text-anchor="middle" fill="#4D4D4D" color="#4D4D4D" transform="translate(356.80 159.40) scale(1.0 1.1)">0.0</text>
<line x1="274.70" y1="55.00" x2="276.50" y2="55.00" stroke="#333" stroke-width="0.8"/>
<text x="0" y="0" font-size="8.5" text-anchor="end" fill="#4D4D4D" color="#4D4D4D" transform="translate(272.60 57.90) scale(1.0 1.1)">0.0</text>
<line x1="388.55" y1="149.20" x2="388.55" y2="151.00" stroke="#333" stroke-width="0.8"/>
<text x="0" y="0" font-size="8.5" text-anchor="middle" fill="#4D4D4D" color="#4D4D4D" transform="translate(391.55 159.40) scale(1.0 1.1)">2.5</text>
<line x1="274.70" y1="19.70" x2="276.50" y2="19.70" stroke="#333" stroke-width="0.8"/>
<text x="0" y="0" font-size="8.5" text-anchor="end" fill="#4D4D4D" color="#4D4D4D" transform="translate(274.00 22.60) scale(1.0 1.1)">2.5</text>
<text x="0" y="0" font-size="9.6" text-anchor="middle" fill="#111" color="#111" transform="translate(349.00 172.50) scale(1.0 1.1)">PC1</text>
<text x="0" y="0" font-size="9.6" text-anchor="middle" fill="#111" color="#111" transform="translate(256.00 78.00) rotate(-90) scale(1.0 1.1)">PC2</text>
<text x="0" y="0" font-size="8.4" text-anchor="start" fill="#111" color="#111" transform="translate(421.50 69.80) scale(1.0 1.1)">Risk</text>
<circle cx="427.20" cy="80.90" r="1.35" fill="#FF3B00"/>
<circle cx="427.20" cy="90.40" r="1.35" fill="#1E8FFF"/>
<text x="0" y="0" font-size="8.3" text-anchor="start" fill="#111" color="#111" transform="translate(431.50 83.30) scale(1.0 1.1)">high</text>
<text x="0" y="0" font-size="8.3" text-anchor="start" fill="#111" color="#111" transform="translate(431.50 97.60) scale(1.0 1.1)">low</text>
<text x="0" y="0" font-size="13.2" text-anchor="start" fill="#000" color="#000" transform="translate(483.50 11.90) scale(1.0 1.0)" stroke="#000" stroke-width="0.22">C</text>
<circle cx="533.02" cy="70.49" r="1.35" fill="#FF3B00"/>
<circle cx="531.74" cy="82.19" r="1.35" fill="#FF3B00"/>
<circle cx="554.40" cy="85.85" r="1.35" fill="#FF3B00"/>
<circle cx="558.06" cy="87.31" r="1.35" fill="#FF3B00"/>
<circle cx="537.59" cy="91.88" r="1.35" fill="#FF3B00"/>
<circle cx="526.62" cy="101.02" r="1.35" fill="#FF3B00"/>
<circle cx="528.81" cy="102.85" r="1.35" fill="#FF3B00"/>
<circle cx="529.91" cy="104.67" r="1.35" fill="#FF3B00"/>
<circle cx="518.40" cy="108.33" r="1.35" fill="#FF3B00"/>
<circle cx="521.50" cy="108.88" r="1.35" fill="#FF3B00"/>
<circle cx="533.93" cy="107.05" r="1.35" fill="#FF3B00"/>
<circle cx="537.22" cy="108.88" r="1.35" fill="#FF3B00"/>
<circle cx="526.99" cy="110.16" r="1.35" fill="#FF3B00"/>
<circle cx="529.91" cy="111.44" r="1.35" fill="#FF3B00"/>
<circle cx="550.75" cy="113.26" r="1.35" fill="#FF3B00"/>
<circle cx="546.73" cy="115.09" r="1.35" fill="#FF3B00"/>
<circle cx="546.36" cy="117.47" r="1.35" fill="#FF3B00"/>
<circle cx="531.74" cy="119.30" r="1.35" fill="#FF3B00"/>
<circle cx="533.02" cy="121.67" r="1.35" fill="#FF3B00"/>
<circle cx="542.16" cy="121.12" r="1.35" fill="#FF3B00"/>
<circle cx="535.76" cy="123.86" r="1.35" fill="#FF3B00"/>
<circle cx="537.59" cy="124.78" r="1.35" fill="#FF3B00"/>
<circle cx="547.64" cy="121.67" r="1.35" fill="#FF3B00"/>
<circle cx="558.61" cy="120.57" r="1.35" fill="#FF3B00"/>
<circle cx="523.88" cy="124.78" r="1.35" fill="#FF3B00"/>
<circle cx="528.08" cy="127.15" r="1.35" fill="#FF3B00"/>
<circle cx="532.10" cy="128.43" r="1.35" fill="#FF3B00"/>
<circle cx="534.30" cy="128.43" r="1.35" fill="#FF3B00"/>
<circle cx="541.24" cy="127.89" r="1.35" fill="#FF3B00"/>
<circle cx="548.55" cy="125.69" r="1.35" fill="#FF3B00"/>
<circle cx="553.12" cy="125.69" r="1.35" fill="#FF3B00"/>
<circle cx="554.95" cy="126.61" r="1.35" fill="#FF3B00"/>
<circle cx="526.26" cy="130.26" r="1.35" fill="#FF3B00"/>
<circle cx="525.16" cy="132.09" r="1.35" fill="#FF3B00"/>
<circle cx="522.97" cy="133.92" r="1.35" fill="#FF3B00"/>
<circle cx="549.47" cy="132.64" r="1.35" fill="#FF3B00"/>
<circle cx="549.47" cy="135.74" r="1.35" fill="#FF3B00"/>
<circle cx="562.26" cy="134.46" r="1.35" fill="#FF3B00"/>
<circle cx="566.83" cy="130.26" r="1.35" fill="#FF3B00"/>
<circle cx="571.40" cy="104.67" r="1.35" fill="#FF3B00"/>
<circle cx="541.61" cy="139.95" r="1.35" fill="#FF3B00"/>
<circle cx="538.50" cy="140.68" r="1.35" fill="#FF3B00"/>
<circle cx="537.59" cy="143.60" r="1.35" fill="#FF3B00"/>
<circle cx="601.93" cy="88.22" r="1.35" fill="#FF3B00"/>
<circle cx="601.02" cy="99.74" r="1.35" fill="#FF3B00"/>
<circle cx="581.45" cy="34.85" r="1.35" fill="#1E8FFF"/>
<circle cx="576.33" cy="37.59" r="1.35" fill="#1E8FFF"/>
<circle cx="565.00" cy="47.09" r="1.35" fill="#1E8FFF"/>
<circle cx="581.45" cy="56.78" r="1.35" fill="#1E8FFF"/>
<circle cx="578.71" cy="58.61" r="1.35" fill="#1E8FFF"/>
<circle cx="574.14" cy="58.61" r="1.35" fill="#1E8FFF"/>
<circle cx="572.68" cy="59.89" r="1.35" fill="#1E8FFF"/>
<circle cx="568.66" cy="62.26" r="1.35" fill="#1E8FFF"/>
<circle cx="541.24" cy="59.89" r="1.35" fill="#1E8FFF"/>
<circle cx="548.55" cy="61.71" r="1.35" fill="#1E8FFF"/>
<circle cx="545.81" cy="64.09" r="1.35" fill="#1E8FFF"/>
<circle cx="543.98" cy="66.46" r="1.35" fill="#1E8FFF"/>
<circle cx="545.81" cy="66.46" r="1.35" fill="#1E8FFF"/>
<circle cx="549.47" cy="65.92" r="1.35" fill="#1E8FFF"/>
<circle cx="535.39" cy="65.37" r="1.35" fill="#1E8FFF"/>
<circle cx="536.67" cy="67.20" r="1.35" fill="#1E8FFF"/>
<circle cx="530.64" cy="67.20" r="1.35" fill="#1E8FFF"/>
<circle cx="544.53" cy="70.49" r="1.35" fill="#1E8FFF"/>
<circle cx="550.38" cy="71.95" r="1.35" fill="#1E8FFF"/>
<circle cx="553.12" cy="71.95" r="1.35" fill="#1E8FFF"/>
<circle cx="556.23" cy="71.95" r="1.35" fill="#1E8FFF"/>
<circle cx="537.59" cy="74.14" r="1.35" fill="#1E8FFF"/>
<circle cx="537.95" cy="75.97" r="1.35" fill="#1E8FFF"/>
<circle cx="541.24" cy="76.33" r="1.35" fill="#1E8FFF"/>
<circle cx="542.70" cy="75.05" r="1.35" fill="#1E8FFF"/>
<circle cx="564.09" cy="65.92" r="1.35" fill="#1E8FFF"/>
<circle cx="574.14" cy="66.83" r="1.35" fill="#1E8FFF"/>
<circle cx="576.33" cy="69.02" r="1.35" fill="#1E8FFF"/>
<circle cx="578.71" cy="69.02" r="1.35" fill="#1E8FFF"/>
<circle cx="567.20" cy="71.40" r="1.35" fill="#1E8FFF"/>
<circle cx="570.12" cy="70.85" r="1.35" fill="#1E8FFF"/>
<circle cx="572.31" cy="71.40" r="1.35" fill="#1E8FFF"/>
<circle cx="573.78" cy="74.14" r="1.35" fill="#1E8FFF"/>
<circle cx="553.67" cy="78.71" r="1.35" fill="#1E8FFF"/>
<circle cx="531.19" cy="79.99" r="1.35" fill="#1E8FFF"/>
<circle cx="604.13" cy="18.95" r="1.35" fill="#1E8FFF"/>
<circle cx="603.76" cy="20.77" r="1.35" fill="#1E8FFF"/>
<circle cx="610.70" cy="21.50" r="1.35" fill="#1E8FFF"/>
<circle cx="601.93" cy="25.71" r="1.35" fill="#1E8FFF"/>
<circle cx="603.76" cy="26.26" r="1.35" fill="#1E8FFF"/>
<circle cx="607.42" cy="27.54" r="1.35" fill="#1E8FFF"/>
<circle cx="610.16" cy="25.71" r="1.35" fill="#1E8FFF"/>
<circle cx="612.90" cy="25.71" r="1.35" fill="#1E8FFF"/>
<circle cx="598.28" cy="28.08" r="1.35" fill="#1E8FFF"/>
<circle cx="625.69" cy="24.79" r="1.35" fill="#1E8FFF"/>
<circle cx="633.92" cy="25.16" r="1.35" fill="#1E8FFF"/>
<circle cx="620.21" cy="28.08" r="1.35" fill="#1E8FFF"/>
<circle cx="623.86" cy="27.54" r="1.35" fill="#1E8FFF"/>
<circle cx="630.26" cy="29.36" r="1.35" fill="#1E8FFF"/>
<circle cx="633.92" cy="29.91" r="1.35" fill="#1E8FFF"/>
<circle cx="588.22" cy="29.36" r="1.35" fill="#1E8FFF"/>
<circle cx="590.05" cy="31.74" r="1.35" fill="#1E8FFF"/>
<circle cx="587.31" cy="33.57" r="1.35" fill="#1E8FFF"/>
<circle cx="585.48" cy="34.30" r="1.35" fill="#1E8FFF"/>
<circle cx="588.77" cy="36.67" r="1.35" fill="#1E8FFF"/>
<circle cx="588.22" cy="38.50" r="1.35" fill="#1E8FFF"/>
<circle cx="593.71" cy="39.42" r="1.35" fill="#1E8FFF"/>
<circle cx="596.81" cy="39.78" r="1.35" fill="#1E8FFF"/>
<circle cx="609.24" cy="30.28" r="1.35" fill="#1E8FFF"/>
<circle cx="610.16" cy="32.47" r="1.35" fill="#1E8FFF"/>
<circle cx="613.81" cy="33.57" r="1.35" fill="#1E8FFF"/>
<circle cx="611.98" cy="34.85" r="1.35" fill="#1E8FFF"/>
<circle cx="618.38" cy="33.57" r="1.35" fill="#1E8FFF"/>
<circle cx="620.21" cy="32.47" r="1.35" fill="#1E8FFF"/>
<circle cx="614.73" cy="36.67" r="1.35" fill="#1E8FFF"/>
<circle cx="616.55" cy="39.42" r="1.35" fill="#1E8FFF"/>
<circle cx="612.90" cy="40.88" r="1.35" fill="#1E8FFF"/>
<circle cx="617.47" cy="41.24" r="1.35" fill="#1E8FFF"/>
<circle cx="625.69" cy="35.76" r="1.35" fill="#1E8FFF"/>
<circle cx="628.98" cy="34.85" r="1.35" fill="#1E8FFF"/>
<circle cx="631.17" cy="37.59" r="1.35" fill="#1E8FFF"/>
<circle cx="627.52" cy="40.33" r="1.35" fill="#1E8FFF"/>
<circle cx="630.26" cy="40.88" r="1.35" fill="#1E8FFF"/>
<circle cx="625.33" cy="43.07" r="1.35" fill="#1E8FFF"/>
<circle cx="633.37" cy="43.44" r="1.35" fill="#1E8FFF"/>
<circle cx="637.02" cy="43.44" r="1.35" fill="#1E8FFF"/>
<circle cx="641.23" cy="41.61" r="1.35" fill="#1E8FFF"/>
<circle cx="643.05" cy="39.42" r="1.35" fill="#1E8FFF"/>
<circle cx="644.88" cy="38.50" r="1.35" fill="#1E8FFF"/>
<circle cx="583.66" cy="45.26" r="1.35" fill="#1E8FFF"/>
<circle cx="619.84" cy="45.81" r="1.35" fill="#1E8FFF"/>
<circle cx="608.33" cy="49.47" r="1.35" fill="#1E8FFF"/>
<circle cx="596.45" cy="50.02" r="1.35" fill="#1E8FFF"/>
<circle cx="592.79" cy="50.38" r="1.35" fill="#1E8FFF"/>
<circle cx="593.71" cy="51.84" r="1.35" fill="#1E8FFF"/>
<circle cx="622.04" cy="51.84" r="1.35" fill="#1E8FFF"/>
<circle cx="623.86" cy="56.23" r="1.35" fill="#1E8FFF"/>
<circle cx="610.70" cy="55.86" r="1.35" fill="#1E8FFF"/>
<circle cx="610.70" cy="59.15" r="1.35" fill="#1E8FFF"/>
<circle cx="590.05" cy="59.89" r="1.35" fill="#1E8FFF"/>
<circle cx="588.77" cy="63.17" r="1.35" fill="#1E8FFF"/>
<circle cx="591.33" cy="64.09" r="1.35" fill="#1E8FFF"/>
<circle cx="595.54" cy="61.71" r="1.35" fill="#1E8FFF"/>
<circle cx="599.74" cy="60.98" r="1.35" fill="#1E8FFF"/>
<circle cx="601.93" cy="60.98" r="1.35" fill="#1E8FFF"/>
<circle cx="604.67" cy="61.71" r="1.35" fill="#1E8FFF"/>
<circle cx="608.33" cy="63.17" r="1.35" fill="#1E8FFF"/>
<circle cx="609.24" cy="65.37" r="1.35" fill="#1E8FFF"/>
<circle cx="611.07" cy="66.46" r="1.35" fill="#1E8FFF"/>
<circle cx="598.28" cy="66.83" r="1.35" fill="#1E8FFF"/>
<circle cx="601.02" cy="65.92" r="1.35" fill="#1E8FFF"/>
<circle cx="616.19" cy="66.83" r="1.35" fill="#1E8FFF"/>
<circle cx="629.71" cy="60.98" r="1.35" fill="#1E8FFF"/>
<circle cx="589.50" cy="69.57" r="1.35" fill="#1E8FFF"/>
<circle cx="590.05" cy="74.14" r="1.35" fill="#1E8FFF"/>
<circle cx="601.57" cy="71.95" r="1.35" fill="#1E8FFF"/>
<circle cx="608.33" cy="73.23" r="1.35" fill="#1E8FFF"/>
<circle cx="607.42" cy="75.05" r="1.35" fill="#1E8FFF"/>
<circle cx="604.67" cy="76.33" r="1.35" fill="#1E8FFF"/>
<circle cx="607.42" cy="77.43" r="1.35" fill="#1E8FFF"/>
<circle cx="615.09" cy="74.51" r="1.35" fill="#1E8FFF"/>
<circle cx="618.02" cy="75.60" r="1.35" fill="#1E8FFF"/>
<circle cx="621.12" cy="71.40" r="1.35" fill="#1E8FFF"/>
<circle cx="620.57" cy="74.14" r="1.35" fill="#1E8FFF"/>
<circle cx="622.40" cy="76.88" r="1.35" fill="#1E8FFF"/>
<circle cx="553.12" cy="82.19" r="1.35" fill="#1E8FFF"/>
<circle cx="548.55" cy="85.12" r="1.35" fill="#1E8FFF"/>
<circle cx="551.30" cy="86.40" r="1.35" fill="#1E8FFF"/>
<circle cx="538.50" cy="86.40" r="1.35" fill="#1E8FFF"/>
<circle cx="537.22" cy="88.22" r="1.35" fill="#1E8FFF"/>
<circle cx="567.74" cy="82.19" r="1.35" fill="#1E8FFF"/>
<circle cx="550.38" cy="91.88" r="1.35" fill="#1E8FFF"/>
<circle cx="554.04" cy="90.97" r="1.35" fill="#1E8FFF"/>
<circle cx="559.15" cy="92.79" r="1.35" fill="#1E8FFF"/>
<circle cx="554.95" cy="94.62" r="1.35" fill="#1E8FFF"/>
<circle cx="540.33" cy="94.26" r="1.35" fill="#1E8FFF"/>
<circle cx="577.43" cy="92.43" r="1.35" fill="#1E8FFF"/>
<circle cx="581.45" cy="90.05" r="1.35" fill="#1E8FFF"/>
<circle cx="548.55" cy="97.36" r="1.35" fill="#1E8FFF"/>
<circle cx="550.38" cy="98.28" r="1.35" fill="#1E8FFF"/>
<circle cx="546.73" cy="99.19" r="1.35" fill="#1E8FFF"/>
<circle cx="545.26" cy="101.93" r="1.35" fill="#1E8FFF"/>
<circle cx="551.84" cy="101.57" r="1.35" fill="#1E8FFF"/>
<circle cx="529.91" cy="107.05" r="1.35" fill="#1E8FFF"/>
<circle cx="539.05" cy="110.16" r="1.35" fill="#1E8FFF"/>
<circle cx="539.78" cy="117.47" r="1.35" fill="#1E8FFF"/>
<circle cx="540.88" cy="119.30" r="1.35" fill="#1E8FFF"/>
<circle cx="559.15" cy="116.19" r="1.35" fill="#1E8FFF"/>
<circle cx="558.61" cy="118.38" r="1.35" fill="#1E8FFF"/>
<circle cx="562.81" cy="115.64" r="1.35" fill="#1E8FFF"/>
<circle cx="542.70" cy="125.33" r="1.35" fill="#1E8FFF"/>
<circle cx="569.02" cy="128.98" r="1.35" fill="#1E8FFF"/>
<circle cx="572.31" cy="127.89" r="1.35" fill="#1E8FFF"/>
<circle cx="581.45" cy="107.05" r="1.35" fill="#1E8FFF"/>
<circle cx="584.57" cy="82.19" r="1.35" fill="#1E8FFF"/>
<circle cx="589.14" cy="84.57" r="1.35" fill="#1E8FFF"/>
<circle cx="595.54" cy="84.02" r="1.35" fill="#1E8FFF"/>
<circle cx="596.81" cy="82.19" r="1.35" fill="#1E8FFF"/>
<circle cx="587.31" cy="87.31" r="1.35" fill="#1E8FFF"/>
<circle cx="589.14" cy="88.22" r="1.35" fill="#1E8FFF"/>
<circle cx="591.33" cy="89.14" r="1.35" fill="#1E8FFF"/>
<circle cx="590.60" cy="90.97" r="1.35" fill="#1E8FFF"/>
<circle cx="596.08" cy="90.60" r="1.35" fill="#1E8FFF"/>
<circle cx="588.77" cy="93.71" r="1.35" fill="#1E8FFF"/>
<circle cx="601.57" cy="94.26" r="1.35" fill="#1E8FFF"/>
<circle cx="604.67" cy="96.08" r="1.35" fill="#1E8FFF"/>
<circle cx="608.33" cy="95.54" r="1.35" fill="#1E8FFF"/>
<circle cx="612.90" cy="90.60" r="1.35" fill="#1E8FFF"/>
<circle cx="614.36" cy="89.14" r="1.35" fill="#1E8FFF"/>
<circle cx="583.66" cy="103.76" r="1.35" fill="#1E8FFF"/>
<rect x="512.70" y="12.50" width="138.80" height="136.70" stroke="#888" fill="none" stroke-width="0.9"/>
<line x1="544.70" y1="149.20" x2="544.70" y2="151.00" stroke="#333" stroke-width="0.8"/>
<text x="0" y="0" font-size="8.5" text-anchor="middle" fill="#4D4D4D" color="#4D4D4D" transform="translate(545.50 159.60) scale(1.0 1.1)">−10</text>
<line x1="577.60" y1="149.20" x2="577.60" y2="151.00" stroke="#333" stroke-width="0.8"/>
<text x="0" y="0" font-size="8.5" text-anchor="middle" fill="#4D4D4D" color="#4D4D4D" transform="translate(578.40 159.60) scale(1.0 1.1)">0</text>
<line x1="610.50" y1="149.20" x2="610.50" y2="151.00" stroke="#333" stroke-width="0.8"/>
<text x="0" y="0" font-size="8.5" text-anchor="middle" fill="#4D4D4D" color="#4D4D4D" transform="translate(611.30 159.60) scale(1.0 1.1)">10</text>
<line x1="643.40" y1="149.20" x2="643.40" y2="151.00" stroke="#333" stroke-width="0.8"/>
<text x="0" y="0" font-size="8.5" text-anchor="middle" fill="#4D4D4D" color="#4D4D4D" transform="translate(644.20 159.60) scale(1.0 1.1)">20</text>
<line x1="510.90" y1="14.84" x2="512.70" y2="14.84" stroke="#333" stroke-width="0.8"/>
<text x="0" y="0" font-size="8.5" text-anchor="end" fill="#4D4D4D" color="#4D4D4D" transform="translate(509.40 17.74) scale(1.0 1.1)">20</text>
<line x1="510.90" y1="45.67" x2="512.70" y2="45.67" stroke="#333" stroke-width="0.8"/>
<text x="0" y="0" font-size="8.5" text-anchor="end" fill="#4D4D4D" color="#4D4D4D" transform="translate(509.40 48.57) scale(1.0 1.1)">10</text>
<line x1="510.90" y1="76.50" x2="512.70" y2="76.50" stroke="#333" stroke-width="0.8"/>
<text x="0" y="0" font-size="8.5" text-anchor="end" fill="#4D4D4D" color="#4D4D4D" transform="translate(509.40 79.40) scale(1.0 1.1)">0</text>
<line x1="510.90" y1="107.33" x2="512.70" y2="107.33" stroke="#333" stroke-width="0.8"/>
<text x="0" y="0" font-size="8.5" text-anchor="end" fill="#4D4D4D" color="#4D4D4D" transform="translate(509.40 110.23) scale(1.0 1.1)">−10</text>
<line x1="510.90" y1="138.16" x2="512.70" y2="138.16" stroke="#333" stroke-width="0.8"/>
<text x="0" y="0" font-size="8.5" text-anchor="end" fill="#4D4D4D" color="#4D4D4D" transform="translate(509.40 141.06) scale(1.0 1.1)">−20</text>
<text x="0" y="0" font-size="9.6" text-anchor="middle" fill="#111" color="#111" transform="translate(581.20 173.90) scale(1.0 1.1)">tSNE1</text>
<text x="0" y="0" font-size="9.6" text-anchor="middle" fill="#111" color="#111" transform="translate(495.80 75.50) rotate(-90) scale(1.0 1.1)">tSNE2</text>
<text x="0" y="0" font-size="8.4" text-anchor="start" fill="#111" color="#111" transform="translate(656.30 68.90) scale(1.0 1.1)">Risk</text>
<circle cx="665.30" cy="80.70" r="1.35" fill="#FF3B00"/>
<circle cx="665.30" cy="89.80" r="1.35" fill="#1E8FFF"/>
<text x="0" y="0" font-size="8.3" text-anchor="start" fill="#111" color="#111" transform="translate(667.70 81.30) scale(1.0 1.1)">high</text>
<text x="0" y="0" font-size="8.3" text-anchor="start" fill="#111" color="#111" transform="translate(667.70 95.70) scale(1.0 1.1)">low</text>
<text x="0" y="0" font-size="13.2" text-anchor="start" fill="#000" color="#000" transform="translate(2.50 217.70) scale(1.0 1.0)" stroke="#000" stroke-width="0.22">D</text>
<line x1="175.40" y1="223.50" x2="175.40" y2="344.20" stroke="#555" stroke-width="1.0" stroke-dasharray="0.8 1.3"/>
<circle cx="50.12" cy="252.98" r="1.35" fill="#1E8FFF"/>
<circle cx="58.22" cy="252.98" r="1.35" fill="#1E8FFF"/>
<circle cx="59.03" cy="251.36" r="1.35" fill="#1E8FFF"/>
<circle cx="39.26" cy="257.35" r="1.35" fill="#1E8FFF"/>
<circle cx="64.38" cy="257.35" r="1.35" fill="#1E8FFF"/>
<circle cx="67.13" cy="254.27" r="1.35" fill="#1E8FFF"/>
<circle cx="70.37" cy="256.22" r="1.35" fill="#1E8FFF"/>
<circle cx="71.18" cy="258.97" r="1.35" fill="#1E8FFF"/>
<circle cx="85.76" cy="260.59" r="1.35" fill="#1E8FFF"/>
<circle cx="66.32" cy="269.99" r="1.35" fill="#1E8FFF"/>
<circle cx="74.91" cy="271.29" r="1.35" fill="#1E8FFF"/>
<circle cx="32.29" cy="274.85" r="1.35" fill="#1E8FFF"/>
<circle cx="36.02" cy="277.77" r="1.35" fill="#1E8FFF"/>
<circle cx="40.39" cy="278.09" r="1.35" fill="#1E8FFF"/>
<circle cx="39.91" cy="279.71" r="1.35" fill="#1E8FFF"/>
<circle cx="42.50" cy="281.01" r="1.35" fill="#1E8FFF"/>
<circle cx="43.63" cy="274.85" r="1.35" fill="#1E8FFF"/>
<circle cx="49.63" cy="274.85" r="1.35" fill="#1E8FFF"/>
<circle cx="47.36" cy="281.01" r="1.35" fill="#1E8FFF"/>
<circle cx="83.66" cy="277.77" r="1.35" fill="#1E8FFF"/>
<circle cx="86.57" cy="274.85" r="1.35" fill="#1E8FFF"/>
<circle cx="92.25" cy="284.25" r="1.35" fill="#1E8FFF"/>
<circle cx="34.40" cy="290.29" r="1.35" fill="#1E8FFF"/>
<circle cx="33.91" cy="293.53" r="1.35" fill="#1E8FFF"/>
<circle cx="37.64" cy="293.05" r="1.35" fill="#1E8FFF"/>
<circle cx="38.77" cy="296.77" r="1.35" fill="#1E8FFF"/>
<circle cx="45.74" cy="288.67" r="1.35" fill="#1E8FFF"/>
<circle cx="51.25" cy="288.67" r="1.35" fill="#1E8FFF"/>
<circle cx="48.01" cy="293.53" r="1.35" fill="#1E8FFF"/>
<circle cx="53.36" cy="293.53" r="1.35" fill="#1E8FFF"/>
<circle cx="54.98" cy="291.91" r="1.35" fill="#1E8FFF"/>
<circle cx="52.87" cy="296.77" r="1.35" fill="#1E8FFF"/>
<circle cx="60.97" cy="290.29" r="1.35" fill="#1E8FFF"/>
<circle cx="65.51" cy="287.05" r="1.35" fill="#1E8FFF"/>
<circle cx="67.94" cy="288.67" r="1.35" fill="#1E8FFF"/>
<circle cx="73.94" cy="293.53" r="1.35" fill="#1E8FFF"/>
<circle cx="80.90" cy="285.43" r="1.35" fill="#1E8FFF"/>
<circle cx="80.42" cy="287.05" r="1.35" fill="#1E8FFF"/>
<circle cx="85.28" cy="288.67" r="1.35" fill="#1E8FFF"/>
<circle cx="89.00" cy="299.53" r="1.35" fill="#1E8FFF"/>
<circle cx="93.87" cy="298.39" r="1.35" fill="#1E8FFF"/>
<circle cx="54.17" cy="302.77" r="1.35" fill="#1E8FFF"/>
<circle cx="56.11" cy="304.39" r="1.35" fill="#1E8FFF"/>
<circle cx="61.46" cy="304.06" r="1.35" fill="#1E8FFF"/>
<circle cx="78.15" cy="302.77" r="1.35" fill="#1E8FFF"/>
<circle cx="46.39" cy="308.93" r="1.35" fill="#1E8FFF"/>
<circle cx="44.77" cy="313.79" r="1.35" fill="#1E8FFF"/>
<circle cx="48.98" cy="316.70" r="1.35" fill="#1E8FFF"/>
<circle cx="52.22" cy="310.55" r="1.35" fill="#1E8FFF"/>
<circle cx="57.41" cy="312.17" r="1.35" fill="#1E8FFF"/>
<circle cx="56.60" cy="315.08" r="1.35" fill="#1E8FFF"/>
<circle cx="62.27" cy="312.17" r="1.35" fill="#1E8FFF"/>
<circle cx="63.08" cy="313.79" r="1.35" fill="#1E8FFF"/>
<circle cx="69.07" cy="313.46" r="1.35" fill="#1E8FFF"/>
<circle cx="72.31" cy="312.17" r="1.35" fill="#1E8FFF"/>
<circle cx="77.18" cy="310.55" r="1.35" fill="#1E8FFF"/>
<circle cx="79.77" cy="308.93" r="1.35" fill="#1E8FFF"/>
<circle cx="91.44" cy="310.55" r="1.35" fill="#1E8FFF"/>
<circle cx="82.04" cy="316.70" r="1.35" fill="#1E8FFF"/>
<circle cx="83.01" cy="319.94" r="1.35" fill="#1E8FFF"/>
<circle cx="91.11" cy="316.70" r="1.35" fill="#1E8FFF"/>
<circle cx="93.87" cy="317.84" r="1.35" fill="#1E8FFF"/>
<circle cx="32.78" cy="319.94" r="1.35" fill="#1E8FFF"/>
<circle cx="35.53" cy="319.94" r="1.35" fill="#1E8FFF"/>
<circle cx="76.53" cy="319.94" r="1.35" fill="#1E8FFF"/>
<circle cx="63.89" cy="322.70" r="1.35" fill="#1E8FFF"/>
<circle cx="73.29" cy="324.81" r="1.35" fill="#1E8FFF"/>
<circle cx="59.84" cy="329.18" r="1.35" fill="#1E8FFF"/>
<circle cx="75.56" cy="330.80" r="1.35" fill="#1E8FFF"/>
<circle cx="87.38" cy="335.66" r="1.35" fill="#1E8FFF"/>
<circle cx="162.35" cy="237.26" r="1.35" fill="#1E8FFF"/>
<circle cx="122.98" cy="252.98" r="1.35" fill="#1E8FFF"/>
<circle cx="129.46" cy="256.22" r="1.35" fill="#1E8FFF"/>
<circle cx="101.91" cy="257.35" r="1.35" fill="#1E8FFF"/>
<circle cx="116.01" cy="263.83" r="1.35" fill="#1E8FFF"/>
<circle cx="118.60" cy="263.83" r="1.35" fill="#1E8FFF"/>
<circle cx="138.05" cy="266.75" r="1.35" fill="#1E8FFF"/>
<circle cx="137.07" cy="269.99" r="1.35" fill="#1E8FFF"/>
<circle cx="135.13" cy="271.61" r="1.35" fill="#1E8FFF"/>
<circle cx="135.94" cy="273.23" r="1.35" fill="#1E8FFF"/>
<circle cx="122.17" cy="271.61" r="1.35" fill="#1E8FFF"/>
<circle cx="120.87" cy="273.23" r="1.35" fill="#1E8FFF"/>
<circle cx="147.77" cy="273.23" r="1.35" fill="#1E8FFF"/>
<circle cx="153.28" cy="268.37" r="1.35" fill="#1E8FFF"/>
<circle cx="154.25" cy="274.85" r="1.35" fill="#1E8FFF"/>
<circle cx="161.87" cy="274.85" r="1.35" fill="#1E8FFF"/>
<circle cx="160.25" cy="278.09" r="1.35" fill="#1E8FFF"/>
<circle cx="102.72" cy="279.39" r="1.35" fill="#1E8FFF"/>
<circle cx="125.41" cy="279.39" r="1.35" fill="#1E8FFF"/>
<circle cx="131.89" cy="278.09" r="1.35" fill="#1E8FFF"/>
<circle cx="139.18" cy="278.09" r="1.35" fill="#1E8FFF"/>
<circle cx="140.80" cy="279.71" r="1.35" fill="#1E8FFF"/>
<circle cx="146.80" cy="282.63" r="1.35" fill="#1E8FFF"/>
<circle cx="112.12" cy="284.90" r="1.35" fill="#1E8FFF"/>
<circle cx="100.29" cy="287.05" r="1.35" fill="#1E8FFF"/>
<circle cx="105.15" cy="287.05" r="1.35" fill="#1E8FFF"/>
<circle cx="111.15" cy="287.54" r="1.35" fill="#1E8FFF"/>
<circle cx="116.98" cy="288.67" r="1.35" fill="#1E8FFF"/>
<circle cx="97.86" cy="291.91" r="1.35" fill="#1E8FFF"/>
<circle cx="99.81" cy="291.91" r="1.35" fill="#1E8FFF"/>
<circle cx="103.53" cy="293.53" r="1.35" fill="#1E8FFF"/>
<circle cx="105.96" cy="295.15" r="1.35" fill="#1E8FFF"/>
<circle cx="113.25" cy="291.91" r="1.35" fill="#1E8FFF"/>
<circle cx="114.88" cy="293.05" r="1.35" fill="#1E8FFF"/>
<circle cx="119.25" cy="295.15" r="1.35" fill="#1E8FFF"/>
<circle cx="113.74" cy="298.39" r="1.35" fill="#1E8FFF"/>
<circle cx="96.24" cy="302.77" r="1.35" fill="#1E8FFF"/>
<circle cx="101.10" cy="304.06" r="1.35" fill="#1E8FFF"/>
<circle cx="106.77" cy="301.63" r="1.35" fill="#1E8FFF"/>
<circle cx="107.26" cy="303.25" r="1.35" fill="#1E8FFF"/>
<circle cx="104.02" cy="307.31" r="1.35" fill="#1E8FFF"/>
<circle cx="110.01" cy="308.93" r="1.35" fill="#1E8FFF"/>
<circle cx="97.05" cy="310.55" r="1.35" fill="#1E8FFF"/>
<circle cx="98.67" cy="315.08" r="1.35" fill="#1E8FFF"/>
<circle cx="110.50" cy="315.08" r="1.35" fill="#1E8FFF"/>
<circle cx="121.84" cy="301.15" r="1.35" fill="#1E8FFF"/>
<circle cx="134.32" cy="287.05" r="1.35" fill="#1E8FFF"/>
<circle cx="142.42" cy="290.29" r="1.35" fill="#1E8FFF"/>
<circle cx="130.59" cy="295.15" r="1.35" fill="#1E8FFF"/>
<circle cx="127.03" cy="306.01" r="1.35" fill="#1E8FFF"/>
<circle cx="131.08" cy="304.06" r="1.35" fill="#1E8FFF"/>
<circle cx="128.97" cy="309.25" r="1.35" fill="#1E8FFF"/>
<circle cx="136.75" cy="308.93" r="1.35" fill="#1E8FFF"/>
<circle cx="125.08" cy="316.70" r="1.35" fill="#1E8FFF"/>
<circle cx="133.51" cy="318.32" r="1.35" fill="#1E8FFF"/>
<circle cx="145.18" cy="298.39" r="1.35" fill="#1E8FFF"/>
<circle cx="149.39" cy="298.39" r="1.35" fill="#1E8FFF"/>
<circle cx="151.66" cy="299.53" r="1.35" fill="#1E8FFF"/>
<circle cx="144.04" cy="302.44" r="1.35" fill="#1E8FFF"/>
<circle cx="152.63" cy="302.77" r="1.35" fill="#1E8FFF"/>
<circle cx="151.01" cy="307.31" r="1.35" fill="#1E8FFF"/>
<circle cx="141.29" cy="313.46" r="1.35" fill="#1E8FFF"/>
<circle cx="146.15" cy="313.46" r="1.35" fill="#1E8FFF"/>
<circle cx="142.91" cy="319.94" r="1.35" fill="#1E8FFF"/>
<circle cx="154.57" cy="293.53" r="1.35" fill="#1E8FFF"/>
<circle cx="156.52" cy="293.05" r="1.35" fill="#1E8FFF"/>
<circle cx="158.14" cy="291.91" r="1.35" fill="#1E8FFF"/>
<circle cx="157.81" cy="295.96" r="1.35" fill="#1E8FFF"/>
<circle cx="161.06" cy="304.06" r="1.35" fill="#1E8FFF"/>
<circle cx="159.44" cy="310.55" r="1.35" fill="#1E8FFF"/>
<circle cx="155.87" cy="313.46" r="1.35" fill="#1E8FFF"/>
<circle cx="93.81" cy="285.43" r="1.35" fill="#1E8FFF"/>
<circle cx="108.39" cy="332.42" r="1.35" fill="#1E8FFF"/>
<circle cx="120.22" cy="329.18" r="1.35" fill="#1E8FFF"/>
<circle cx="123.79" cy="329.18" r="1.35" fill="#1E8FFF"/>
<circle cx="204.43" cy="227.86" r="1.35" fill="#1E8FFF"/>
<circle cx="171.53" cy="283.76" r="1.35" fill="#1E8FFF"/>
<circle cx="163.43" cy="284.57" r="1.35" fill="#1E8FFF"/>
<circle cx="185.63" cy="283.76" r="1.35" fill="#1E8FFF"/>
<circle cx="188.55" cy="284.57" r="1.35" fill="#1E8FFF"/>
<circle cx="190.98" cy="276.15" r="1.35" fill="#1E8FFF"/>
<circle cx="198.27" cy="271.61" r="1.35" fill="#1E8FFF"/>
<circle cx="210.91" cy="269.99" r="1.35" fill="#1E8FFF"/>
<circle cx="212.53" cy="265.45" r="1.35" fill="#1E8FFF"/>
<circle cx="213.18" cy="282.63" r="1.35" fill="#1E8FFF"/>
<circle cx="199.08" cy="284.57" r="1.35" fill="#1E8FFF"/>
<circle cx="174.77" cy="290.29" r="1.35" fill="#1E8FFF"/>
<circle cx="182.88" cy="290.29" r="1.35" fill="#1E8FFF"/>
<circle cx="181.25" cy="293.53" r="1.35" fill="#1E8FFF"/>
<circle cx="172.02" cy="294.67" r="1.35" fill="#1E8FFF"/>
<circle cx="169.10" cy="307.31" r="1.35" fill="#1E8FFF"/>
<circle cx="169.91" cy="308.93" r="1.35" fill="#1E8FFF"/>
<circle cx="175.58" cy="310.55" r="1.35" fill="#1E8FFF"/>
<circle cx="184.98" cy="307.31" r="1.35" fill="#1E8FFF"/>
<circle cx="180.44" cy="312.17" r="1.35" fill="#1E8FFF"/>
<circle cx="178.50" cy="315.41" r="1.35" fill="#1E8FFF"/>
<circle cx="165.05" cy="315.08" r="1.35" fill="#1E8FFF"/>
<circle cx="164.24" cy="322.70" r="1.35" fill="#1E8FFF"/>
<circle cx="166.67" cy="321.56" r="1.35" fill="#1E8FFF"/>
<circle cx="165.86" cy="324.81" r="1.35" fill="#1E8FFF"/>
<circle cx="184.01" cy="322.70" r="1.35" fill="#1E8FFF"/>
<circle cx="190.49" cy="319.94" r="1.35" fill="#1E8FFF"/>
<circle cx="193.08" cy="302.77" r="1.35" fill="#1E8FFF"/>
<circle cx="194.70" cy="301.15" r="1.35" fill="#1E8FFF"/>
<circle cx="203.13" cy="301.15" r="1.35" fill="#1E8FFF"/>
<circle cx="196.97" cy="312.17" r="1.35" fill="#1E8FFF"/>
<circle cx="200.70" cy="308.93" r="1.35" fill="#1E8FFF"/>
<circle cx="205.56" cy="310.55" r="1.35" fill="#1E8FFF"/>
<circle cx="206.69" cy="312.17" r="1.35" fill="#1E8FFF"/>
<circle cx="211.56" cy="307.31" r="1.35" fill="#1E8FFF"/>
<circle cx="195.35" cy="327.56" r="1.35" fill="#1E8FFF"/>
<circle cx="207.18" cy="327.56" r="1.35" fill="#1E8FFF"/>
<circle cx="174.29" cy="332.42" r="1.35" fill="#1E8FFF"/>
<circle cx="44.12" cy="271.61" r="1.35" fill="#FF3B00"/>
<circle cx="71.99" cy="265.45" r="1.35" fill="#FF3B00"/>
<circle cx="84.63" cy="282.63" r="1.35" fill="#FF3B00"/>
<circle cx="41.53" cy="319.94" r="1.35" fill="#FF3B00"/>
<circle cx="68.43" cy="305.69" r="1.35" fill="#FF3B00"/>
<circle cx="36.67" cy="332.42" r="1.35" fill="#FF3B00"/>
<circle cx="88.19" cy="330.80" r="1.35" fill="#FF3B00"/>
<circle cx="78.80" cy="339.39" r="1.35" fill="#FF3B00"/>
<circle cx="89.81" cy="338.42" r="1.35" fill="#FF3B00"/>
<circle cx="126.22" cy="273.23" r="1.35" fill="#FF3B00"/>
<circle cx="108.88" cy="304.06" r="1.35" fill="#FF3B00"/>
<circle cx="95.43" cy="310.55" r="1.35" fill="#FF3B00"/>
<circle cx="117.63" cy="315.08" r="1.35" fill="#FF3B00"/>
<circle cx="127.84" cy="310.55" r="1.35" fill="#FF3B00"/>
<circle cx="132.70" cy="310.55" r="1.35" fill="#FF3B00"/>
<circle cx="150.04" cy="319.94" r="1.35" fill="#FF3B00"/>
<circle cx="148.42" cy="330.80" r="1.35" fill="#FF3B00"/>
<circle cx="167.48" cy="277.77" r="1.35" fill="#FF3B00"/>
<circle cx="183.36" cy="265.45" r="1.35" fill="#FF3B00"/>
<circle cx="189.36" cy="274.85" r="1.35" fill="#FF3B00"/>
<circle cx="172.67" cy="293.53" r="1.35" fill="#FF3B00"/>
<circle cx="176.88" cy="299.53" r="1.35" fill="#FF3B00"/>
<circle cx="179.63" cy="302.77" r="1.35" fill="#FF3B00"/>
<circle cx="187.25" cy="298.39" r="1.35" fill="#FF3B00"/>
<circle cx="199.89" cy="302.77" r="1.35" fill="#FF3B00"/>
<circle cx="182.06" cy="313.46" r="1.35" fill="#FF3B00"/>
<circle cx="186.60" cy="312.17" r="1.35" fill="#FF3B00"/>
<circle cx="195.03" cy="310.55" r="1.35" fill="#FF3B00"/>
<circle cx="202.32" cy="315.08" r="1.35" fill="#FF3B00"/>
<circle cx="209.29" cy="318.32" r="1.35" fill="#FF3B00"/>
<circle cx="203.94" cy="321.56" r="1.35" fill="#FF3B00"/>
<circle cx="168.29" cy="326.43" r="1.35" fill="#FF3B00"/>
<circle cx="170.72" cy="330.80" r="1.35" fill="#FF3B00"/>
<circle cx="175.91" cy="335.66" r="1.35" fill="#FF3B00"/>
<circle cx="178.01" cy="334.04" r="1.35" fill="#FF3B00"/>
<circle cx="191.79" cy="334.04" r="1.35" fill="#FF3B00"/>
<circle cx="193.41" cy="327.56" r="1.35" fill="#FF3B00"/>
<circle cx="197.94" cy="326.43" r="1.35" fill="#FF3B00"/>
<circle cx="210.42" cy="327.56" r="1.35" fill="#FF3B00"/>
<circle cx="207.99" cy="335.66" r="1.35" fill="#FF3B00"/>
<circle cx="208.80" cy="339.71" r="1.35" fill="#FF3B00"/>
<circle cx="214.15" cy="337.28" r="1.35" fill="#FF3B00"/>
<rect x="25.40" y="223.50" width="196.10" height="120.70" stroke="#888" fill="none" stroke-width="1.3"/>
<line x1="22.40" y1="340.20" x2="25.40" y2="340.20" stroke="#444" stroke-width="0.8"/>
<text x="0" y="0" font-size="7.5" text-anchor="middle" fill="#333" color="#333" transform="translate(19.60 341.10) rotate(-90) scale(1.0 1.1)">0</text>
<line x1="22.40" y1="321.20" x2="25.40" y2="321.20" stroke="#444" stroke-width="0.8"/>
<text x="0" y="0" font-size="7.5" text-anchor="middle" fill="#333" color="#333" transform="translate(19.60 322.10) rotate(-90) scale(1.0 1.1)">1</text>
<line x1="22.40" y1="302.20" x2="25.40" y2="302.20" stroke="#444" stroke-width="0.8"/>
<text x="0" y="0" font-size="7.5" text-anchor="middle" fill="#333" color="#333" transform="translate(19.60 303.10) rotate(-90) scale(1.0 1.1)">2</text>
<line x1="22.40" y1="283.20" x2="25.40" y2="283.20" stroke="#444" stroke-width="0.8"/>
<text x="0" y="0" font-size="7.5" text-anchor="middle" fill="#333" color="#333" transform="translate(19.60 284.10) rotate(-90) scale(1.0 1.1)">3</text>
<line x1="22.40" y1="264.20" x2="25.40" y2="264.20" stroke="#444" stroke-width="0.8"/>
<text x="0" y="0" font-size="7.5" text-anchor="middle" fill="#333" color="#333" transform="translate(19.60 265.10) rotate(-90) scale(1.0 1.1)">4</text>
<line x1="22.40" y1="245.20" x2="25.40" y2="245.20" stroke="#444" stroke-width="0.8"/>
<text x="0" y="0" font-size="7.5" text-anchor="middle" fill="#333" color="#333" transform="translate(19.60 246.10) rotate(-90) scale(1.0 1.1)">5</text>
<line x1="22.40" y1="226.20" x2="25.40" y2="226.20" stroke="#444" stroke-width="0.8"/>
<text x="0" y="0" font-size="7.5" text-anchor="middle" fill="#333" color="#333" transform="translate(19.60 227.10) rotate(-90) scale(1.0 1.1)">6</text>
<line x1="31.80" y1="344.20" x2="31.80" y2="347.20" stroke="#444" stroke-width="0.8"/>
<text x="0" y="0" font-size="7.5" text-anchor="middle" fill="#333" color="#333" transform="translate(32.40 356.40) scale(1.0 1.1)">0</text>
<line x1="71.22" y1="344.20" x2="71.22" y2="347.20" stroke="#444" stroke-width="0.8"/>
<text x="0" y="0" font-size="7.5" text-anchor="middle" fill="#333" color="#333" transform="translate(71.82 356.40) scale(1.0 1.1)">50</text>
<line x1="110.65" y1="344.20" x2="110.65" y2="347.20" stroke="#444" stroke-width="0.8"/>
<text x="0" y="0" font-size="7.5" text-anchor="middle" fill="#333" color="#333" transform="translate(111.25 356.40) scale(1.0 1.1)">100</text>
<line x1="150.07" y1="344.20" x2="150.07" y2="347.20" stroke="#444" stroke-width="0.8"/>
<text x="0" y="0" font-size="7.5" text-anchor="middle" fill="#333" color="#333" transform="translate(150.67 356.40) scale(1.0 1.1)">150</text>
<line x1="189.50" y1="344.20" x2="189.50" y2="347.20" stroke="#444" stroke-width="0.8"/>
<text x="0" y="0" font-size="7.5" text-anchor="middle" fill="#333" color="#333" transform="translate(190.10 356.40) scale(1.0 1.1)">200</text>
<text x="0" y="0" font-size="10.5" text-anchor="middle" fill="#222" color="#222" transform="translate(126.40 370.00) scale(1.0 1.1)">Patients (increasing risk socre)</text>
<text x="0" y="0" font-size="10.7" text-anchor="middle" fill="#222" color="#222" transform="translate(11.40 282.40) rotate(-90) scale(1.0 0.92)">Survival time (years)</text>
<circle cx="30.20" cy="230.30" r="1.5" fill="#FF3B00"/>
<circle cx="30.20" cy="237.30" r="1.5" fill="#1E8FFF"/>
<text x="0" y="0" font-size="7.9" text-anchor="start" fill="#222" color="#222" transform="translate(35.60 231.00) scale(1.0 1.1)">Dead</text>
<text x="0" y="0" font-size="7.9" text-anchor="start" fill="#222" color="#222" transform="translate(35.60 240.20) scale(1.0 1.1)">Alive</text>
<text x="0" y="0" font-size="13.2" text-anchor="start" fill="#000" color="#000" transform="translate(248.80 216.90) scale(1.0 1.0)" stroke="#000" stroke-width="0.22">E</text>
<path d="M286.30,225.50 H295.60 V230.40 H299.20 V231.50 H305.00 V232.00 H314.40 V234.40 H317.50 V237.00 H320.70 V239.90 H325.40 V243.80 H330.00 V245.50 H334.80 V246.90 H339.50 V252.80 H344.00 V256.30 H346.00 V259.80 H379.80 V262.00 H393.40 V257.00 H446.70 V337.70 H393.00 V317.20 H380.00 V302.30 H346.50 V291.50 H344.60 V288.00 H339.70 V284.00 H336.30 V281.40 H328.50 V278.30 H326.90 V275.20 H323.80 V272.00 H320.70 V268.90 H319.10 V266.50 H313.60 V261.00 H304.50 V251.30 H295.10 V244.00 H293.00 V236.70 H290.40 V232.50 H286.70 V226.50 H286.30 Z" fill="#FF4500" fill-opacity="0.3"/>
<path d="M286.30,224.00 H305.00 V225.80 H328.50 V228.10 H330.00 V229.70 H353.00 V231.30 H367.60 V232.80 H382.20 V234.90 H384.30 V236.50 H393.30 V238.50 H433.40 V273.70 H393.30 V261.60 H381.60 V251.50 H375.70 V247.50 H368.70 V244.30 H353.00 V242.20 H350.00 V240.70 H337.90 V237.50 H326.90 V233.80 H316.00 V233.40 H300.30 V228.50 H298.70 V226.00 H286.30 Z" fill="#1E90FF" fill-opacity="0.33"/>
<path d="M286.30,224.90 H298.70 V226.80 H300.30 V228.60 H319.90 V230.50 H326.90 V232.80 H330.00 V234.40 H336.30 V236.20 H352.50 V238.10 H367.60 V240.70 H375.50 V243.30 H381.20 V246.40 H383.30 V247.50 H384.30 V251.10 H393.70 V257.80 H434.40" stroke="#2A8CE8" fill="none" stroke-width="1.4"/>
<path d="M286.30,225.70 H288.00 V227.30 H290.00 V229.90 H292.40 V235.70 H295.10 V239.90 H303.40 V245.10 H305.50 V247.50 H310.50 V248.50 H312.00 V250.10 H314.50 V252.00 H316.80 V254.00 H318.50 V255.50 H320.70 V257.10 H322.30 V258.70 H323.80 V260.30 H325.00 V261.80 H326.20 V263.40 H327.30 V265.00 H328.50 V266.50 H338.70 V274.40 H345.00 V279.90 H346.50 V283.90 H379.60 V296.00 H393.30 V314.80 H447.10" stroke="#FF4A1C" fill="none" stroke-width="1.3"/>
<line x1="303.40" y1="243.10" x2="303.40" y2="247.10" stroke="#FF4A1C" stroke-width="0.8"/>
<line x1="310.30" y1="245.50" x2="310.30" y2="249.50" stroke="#FF4A1C" stroke-width="0.8"/>
<line x1="322.20" y1="255.10" x2="322.20" y2="259.10" stroke="#FF4A1C" stroke-width="0.8"/>
<line x1="330.00" y1="264.50" x2="330.00" y2="268.50" stroke="#FF4A1C" stroke-width="0.8"/>
<line x1="331.60" y1="264.50" x2="331.60" y2="268.50" stroke="#FF4A1C" stroke-width="0.8"/>
<line x1="333.20" y1="264.50" x2="333.20" y2="268.50" stroke="#FF4A1C" stroke-width="0.8"/>
<line x1="341.00" y1="272.40" x2="341.00" y2="276.40" stroke="#FF4A1C" stroke-width="0.8"/>
<line x1="352.40" y1="281.90" x2="352.40" y2="285.90" stroke="#FF4A1C" stroke-width="0.8"/>
<line x1="357.30" y1="281.90" x2="357.30" y2="285.90" stroke="#FF4A1C" stroke-width="0.8"/>
<line x1="364.10" y1="281.90" x2="364.10" y2="285.90" stroke="#FF4A1C" stroke-width="0.8"/>
<line x1="366.10" y1="281.90" x2="366.10" y2="285.90" stroke="#FF4A1C" stroke-width="0.8"/>
<line x1="368.10" y1="281.90" x2="368.10" y2="285.90" stroke="#FF4A1C" stroke-width="0.8"/>
<line x1="377.80" y1="281.90" x2="377.80" y2="285.90" stroke="#FF4A1C" stroke-width="0.8"/>
<line x1="383.50" y1="294.00" x2="383.50" y2="298.00" stroke="#FF4A1C" stroke-width="0.8"/>
<line x1="385.40" y1="294.00" x2="385.40" y2="298.00" stroke="#FF4A1C" stroke-width="0.8"/>
<line x1="393.80" y1="312.80" x2="393.80" y2="316.80" stroke="#FF4A1C" stroke-width="0.8"/>
<line x1="447.00" y1="312.80" x2="447.00" y2="316.80" stroke="#FF4A1C" stroke-width="0.8"/>
<line x1="292.40" y1="222.90" x2="292.40" y2="226.90" stroke="#2A8CE8" stroke-width="0.8"/>
<line x1="296.60" y1="222.90" x2="296.60" y2="226.90" stroke="#2A8CE8" stroke-width="0.8"/>
<line x1="303.40" y1="226.60" x2="303.40" y2="230.60" stroke="#2A8CE8" stroke-width="0.8"/>
<line x1="306.60" y1="226.60" x2="306.60" y2="230.60" stroke="#2A8CE8" stroke-width="0.8"/>
<line x1="308.90" y1="226.60" x2="308.90" y2="230.60" stroke="#2A8CE8" stroke-width="0.8"/>
<line x1="311.30" y1="226.60" x2="311.30" y2="230.60" stroke="#2A8CE8" stroke-width="0.8"/>
<line x1="313.60" y1="226.60" x2="313.60" y2="230.60" stroke="#2A8CE8" stroke-width="0.8"/>
<line x1="316.00" y1="226.60" x2="316.00" y2="230.60" stroke="#2A8CE8" stroke-width="0.8"/>
<line x1="318.30" y1="226.60" x2="318.30" y2="230.60" stroke="#2A8CE8" stroke-width="0.8"/>
<line x1="322.20" y1="228.50" x2="322.20" y2="232.50" stroke="#2A8CE8" stroke-width="0.8"/>
<line x1="324.60" y1="228.50" x2="324.60" y2="232.50" stroke="#2A8CE8" stroke-width="0.8"/>
<line x1="331.60" y1="232.40" x2="331.60" y2="236.40" stroke="#2A8CE8" stroke-width="0.8"/>
<line x1="332.60" y1="232.40" x2="332.60" y2="236.40" stroke="#2A8CE8" stroke-width="0.8"/>
<line x1="333.70" y1="232.40" x2="333.70" y2="236.40" stroke="#2A8CE8" stroke-width="0.8"/>
<line x1="337.80" y1="234.20" x2="337.80" y2="238.20" stroke="#2A8CE8" stroke-width="0.8"/>
<line x1="339.40" y1="234.20" x2="339.40" y2="238.20" stroke="#2A8CE8" stroke-width="0.8"/>
<line x1="341.00" y1="234.20" x2="341.00" y2="238.20" stroke="#2A8CE8" stroke-width="0.8"/>
<line x1="342.50" y1="234.20" x2="342.50" y2="238.20" stroke="#2A8CE8" stroke-width="0.8"/>
<line x1="344.10" y1="234.20" x2="344.10" y2="238.20" stroke="#2A8CE8" stroke-width="0.8"/>
<line x1="345.70" y1="234.20" x2="345.70" y2="238.20" stroke="#2A8CE8" stroke-width="0.8"/>
<line x1="347.20" y1="234.20" x2="347.20" y2="238.20" stroke="#2A8CE8" stroke-width="0.8"/>
<line x1="348.80" y1="234.20" x2="348.80" y2="238.20" stroke="#2A8CE8" stroke-width="0.8"/>
<line x1="353.50" y1="236.10" x2="353.50" y2="240.10" stroke="#2A8CE8" stroke-width="0.8"/>
<line x1="355.10" y1="236.10" x2="355.10" y2="240.10" stroke="#2A8CE8" stroke-width="0.8"/>
<line x1="356.60" y1="236.10" x2="356.60" y2="240.10" stroke="#2A8CE8" stroke-width="0.8"/>
<line x1="358.20" y1="236.10" x2="358.20" y2="240.10" stroke="#2A8CE8" stroke-width="0.8"/>
<line x1="359.80" y1="236.10" x2="359.80" y2="240.10" stroke="#2A8CE8" stroke-width="0.8"/>
<line x1="361.30" y1="236.10" x2="361.30" y2="240.10" stroke="#2A8CE8" stroke-width="0.8"/>
<line x1="362.90" y1="236.10" x2="362.90" y2="240.10" stroke="#2A8CE8" stroke-width="0.8"/>
<line x1="364.50" y1="236.10" x2="364.50" y2="240.10" stroke="#2A8CE8" stroke-width="0.8"/>
<line x1="366.10" y1="236.10" x2="366.10" y2="240.10" stroke="#2A8CE8" stroke-width="0.8"/>
<line x1="369.70" y1="238.70" x2="369.70" y2="242.70" stroke="#2A8CE8" stroke-width="0.8"/>
<line x1="371.30" y1="238.70" x2="371.30" y2="242.70" stroke="#2A8CE8" stroke-width="0.8"/>
<line x1="372.80" y1="238.70" x2="372.80" y2="242.70" stroke="#2A8CE8" stroke-width="0.8"/>
<line x1="374.00" y1="238.70" x2="374.00" y2="242.70" stroke="#2A8CE8" stroke-width="0.8"/>
<line x1="377.00" y1="241.30" x2="377.00" y2="245.30" stroke="#2A8CE8" stroke-width="0.8"/>
<line x1="378.60" y1="241.30" x2="378.60" y2="245.30" stroke="#2A8CE8" stroke-width="0.8"/>
<line x1="385.40" y1="249.10" x2="385.40" y2="253.10" stroke="#2A8CE8" stroke-width="0.8"/>
<line x1="387.20" y1="249.10" x2="387.20" y2="253.10" stroke="#2A8CE8" stroke-width="0.8"/>
<line x1="389.20" y1="249.10" x2="389.20" y2="253.10" stroke="#2A8CE8" stroke-width="0.8"/>
<line x1="391.30" y1="249.10" x2="391.30" y2="253.10" stroke="#2A8CE8" stroke-width="0.8"/>
<line x1="395.00" y1="255.80" x2="395.00" y2="259.80" stroke="#2A8CE8" stroke-width="0.8"/>
<line x1="399.10" y1="255.80" x2="399.10" y2="259.80" stroke="#2A8CE8" stroke-width="0.8"/>
<line x1="401.10" y1="255.80" x2="401.10" y2="259.80" stroke="#2A8CE8" stroke-width="0.8"/>
<line x1="403.00" y1="255.80" x2="403.00" y2="259.80" stroke="#2A8CE8" stroke-width="0.8"/>
<line x1="405.00" y1="255.80" x2="405.00" y2="259.80" stroke="#2A8CE8" stroke-width="0.8"/>
<line x1="407.00" y1="255.80" x2="407.00" y2="259.80" stroke="#2A8CE8" stroke-width="0.8"/>
<line x1="409.00" y1="255.80" x2="409.00" y2="259.80" stroke="#2A8CE8" stroke-width="0.8"/>
<line x1="411.90" y1="255.80" x2="411.90" y2="259.80" stroke="#2A8CE8" stroke-width="0.8"/>
<line x1="413.80" y1="255.80" x2="413.80" y2="259.80" stroke="#2A8CE8" stroke-width="0.8"/>
<line x1="434.40" y1="255.80" x2="434.40" y2="259.80" stroke="#2A8CE8" stroke-width="0.8"/>
<line x1="277.50" y1="218.80" x2="277.50" y2="359.70" stroke="#333" stroke-width="1"/>
<line x1="277.00" y1="359.20" x2="457.20" y2="359.20" stroke="#333" stroke-width="1"/>
<line x1="275.50" y1="352.60" x2="277.50" y2="352.60" stroke="#111" stroke-width="0.8"/>
<text x="0" y="0" font-size="7.4" text-anchor="end" fill="#222" color="#222" transform="translate(274.90 355.60) scale(1.0 1.1)">0.00</text>
<line x1="275.50" y1="320.65" x2="277.50" y2="320.65" stroke="#111" stroke-width="0.8"/>
<text x="0" y="0" font-size="7.4" text-anchor="end" fill="#222" color="#222" transform="translate(274.90 323.65) scale(1.0 1.1)">0.25</text>
<line x1="275.50" y1="288.70" x2="277.50" y2="288.70" stroke="#111" stroke-width="0.8"/>
<text x="0" y="0" font-size="7.4" text-anchor="end" fill="#222" color="#222" transform="translate(274.90 291.70) scale(1.0 1.1)">0.50</text>
<line x1="275.50" y1="256.75" x2="277.50" y2="256.75" stroke="#111" stroke-width="0.8"/>
<text x="0" y="0" font-size="7.4" text-anchor="end" fill="#222" color="#222" transform="translate(274.90 259.75) scale(1.0 1.1)">0.75</text>
<line x1="275.50" y1="224.80" x2="277.50" y2="224.80" stroke="#111" stroke-width="0.8"/>
<text x="0" y="0" font-size="7.4" text-anchor="end" fill="#222" color="#222" transform="translate(274.90 227.80) scale(1.0 1.1)">1.00</text>
<line x1="286.20" y1="359.20" x2="286.20" y2="361.20" stroke="#111" stroke-width="0.8"/>
<text x="0" y="0" font-size="7" text-anchor="middle" fill="#222" color="#222" transform="translate(286.20 367.60) scale(1.0 1.1)">0</text>
<line x1="313.27" y1="359.20" x2="313.27" y2="361.20" stroke="#111" stroke-width="0.8"/>
<text x="0" y="0" font-size="7" text-anchor="middle" fill="#222" color="#222" transform="translate(313.27 367.60) scale(1.0 1.1)">1</text>
<line x1="340.34" y1="359.20" x2="340.34" y2="361.20" stroke="#111" stroke-width="0.8"/>
<text x="0" y="0" font-size="7" text-anchor="middle" fill="#222" color="#222" transform="translate(340.34 367.60) scale(1.0 1.1)">2</text>
<line x1="367.41" y1="359.20" x2="367.41" y2="361.20" stroke="#111" stroke-width="0.8"/>
<text x="0" y="0" font-size="7" text-anchor="middle" fill="#222" color="#222" transform="translate(367.41 367.60) scale(1.0 1.1)">3</text>
<line x1="394.48" y1="359.20" x2="394.48" y2="361.20" stroke="#111" stroke-width="0.8"/>
<text x="0" y="0" font-size="7" text-anchor="middle" fill="#222" color="#222" transform="translate(394.48 367.60) scale(1.0 1.1)">4</text>
<line x1="421.55" y1="359.20" x2="421.55" y2="361.20" stroke="#111" stroke-width="0.8"/>
<text x="0" y="0" font-size="7" text-anchor="middle" fill="#222" color="#222" transform="translate(421.55 367.60) scale(1.0 1.1)">5</text>
<line x1="448.62" y1="359.20" x2="448.62" y2="361.20" stroke="#111" stroke-width="0.8"/>
<text x="0" y="0" font-size="7" text-anchor="middle" fill="#222" color="#222" transform="translate(448.62 367.60) scale(1.0 1.1)">6</text>
<text x="0" y="0" font-size="10.6" text-anchor="middle" fill="#111" color="#111" transform="translate(369.00 380.20) scale(1.0 1.1)">Time(years)</text>
<text x="0" y="0" font-size="10.8" text-anchor="middle" fill="#111" color="#111" transform="translate(257.50 282.40) rotate(-90) scale(1.0 1.1)">Survival probability</text>
<text x="0" y="0" font-size="8.35" text-anchor="start" fill="#222" color="#222" transform="translate(288.60 330.30) scale(1.0 1.1)">p=3.712e−08</text>
<text x="0" y="0" font-size="6.9" text-anchor="start" fill="#222" color="#222" transform="translate(323.00 206.10) scale(1.0 1.1)">Risk</text>
<rect x="337.90" y="198.10" width="9.90" height="9.60" stroke="none" fill="#FFC8B4" stroke-width="1"/>
<line x1="337.90" y1="202.90" x2="347.80" y2="202.90" stroke="#FF4A1C" stroke-width="1.3"/>
<line x1="342.85" y1="201.30" x2="342.85" y2="204.50" stroke="#FF4A1C" stroke-width="0.7"/>
<text x="0" y="0" font-size="6.9" text-anchor="start" fill="#222" color="#222" transform="translate(349.00 206.10) scale(1.0 1.1)">High risk</text>
<rect x="377.20" y="198.10" width="9.70" height="9.60" stroke="none" fill="#B0DCF8" stroke-width="1"/>
<line x1="377.20" y1="202.90" x2="386.90" y2="202.90" stroke="#2A8CE8" stroke-width="1.3"/>
<line x1="382.05" y1="201.30" x2="382.05" y2="204.50" stroke="#2A8CE8" stroke-width="0.7"/>
<text x="0" y="0" font-size="6.9" text-anchor="start" fill="#222" color="#222" transform="translate(388.60 206.10) scale(1.0 1.1)">Low risk</text>
<text x="0" y="0" font-size="13.2" text-anchor="start" fill="#000" color="#000" transform="translate(480.50 215.70) scale(1.0 1.0)" stroke="#000" stroke-width="0.22">F</text>
<line x1="514.60" y1="345.20" x2="674.60" y2="211.20" stroke="#3a3a3a" stroke-width="1.05" stroke-dasharray="1.7 1.5"/>
<path d="M520.60,340.20 L520.60,333.50 L523.50,333.50 L523.50,311.70 L526.30,311.70 L526.30,303.30 L529.90,303.30 L529.90,295.40 L533.80,295.40 L533.80,282.40 L547.50,282.40 L547.50,267.50 L551.80,267.50 L551.80,252.30 L568.70,252.30 L568.70,245.10 L620.80,245.10 L620.80,231.80 L629.80,231.80 L629.80,222.90 L664.50,222.90 L664.50,219.90 L668.70,216.20" stroke="#3FE36E" fill="none" stroke-width="1.15"/>
<path d="M520.60,340.20 L520.60,334.50 L523.90,334.50 L523.90,319.60 L525.20,319.60 L525.20,310.70 L528.90,310.70 L528.90,301.70 L530.90,301.70 L530.90,295.40 L536.80,295.40 L536.80,290.80 L541.80,290.80 L541.80,278.40 L547.90,278.40 L547.90,267.20 L565.00,267.20 L565.00,260.50 L581.40,260.50 L581.40,256.30 L584.80,256.30 L584.80,250.90 L594.50,250.90 L594.50,247.70 L603.40,247.70 L603.40,244.70 L605.00,244.70 L605.00,242.70 L615.50,242.70 L615.50,237.80 L619.40,237.80 L619.40,231.40 L628.80,231.40 L628.80,227.80 L634.70,227.80 L634.70,222.90 L658.50,222.90 L658.50,220.90 L664.50,220.90 L664.50,216.20 L668.70,216.20" stroke="#2B8FF0" fill="none" stroke-width="1.15"/>
<path d="M520.60,340.20 L520.60,337.50 L528.30,337.50 L528.30,325.60 L531.50,325.60 L531.50,314.00 L533.80,314.00 L533.80,300.80 L539.40,300.80 L539.40,291.80 L542.30,291.80 L542.30,260.60 L557.80,260.60 L557.80,254.40 L581.40,254.40 L581.40,250.30 L586.50,250.30 L586.50,246.70 L602.40,246.70 L602.40,243.70 L604.40,243.70 L604.40,239.30 L609.50,239.30 L609.50,229.40 L619.40,229.40 L619.40,226.80 L629.80,226.80 L629.80,222.30 L657.10,222.30 L657.10,219.50 L663.90,219.50 L663.90,216.30 L668.70,216.20" stroke="#FF4A2A" fill="none" stroke-width="1.15"/>
<rect x="514.50" y="211.50" width="160.00" height="133.80" stroke="#444" fill="none" stroke-width="0.9"/>
<line x1="510.30" y1="340.20" x2="514.50" y2="340.20" stroke="#333" stroke-width="0.8"/>
<text x="0" y="0" font-size="8.4" text-anchor="middle" fill="#222" color="#222" transform="translate(506.00 339.50) rotate(-90) scale(1.0 1.1)">0.0</text>
<line x1="520.60" y1="345.30" x2="520.60" y2="350.30" stroke="#333" stroke-width="0.8"/>
<text x="0" y="0" font-size="8.8" text-anchor="middle" fill="#222" color="#222" transform="translate(521.60 362.50) scale(1.0 1.1)">0.0</text>
<line x1="510.30" y1="315.40" x2="514.50" y2="315.40" stroke="#333" stroke-width="0.8"/>
<text x="0" y="0" font-size="8.4" text-anchor="middle" fill="#222" color="#222" transform="translate(506.00 314.70) rotate(-90) scale(1.0 1.1)">0.2</text>
<line x1="550.22" y1="345.30" x2="550.22" y2="350.30" stroke="#333" stroke-width="0.8"/>
<text x="0" y="0" font-size="8.8" text-anchor="middle" fill="#222" color="#222" transform="translate(551.22 362.50) scale(1.0 1.1)">0.2</text>
<line x1="510.30" y1="290.60" x2="514.50" y2="290.60" stroke="#333" stroke-width="0.8"/>
<text x="0" y="0" font-size="8.4" text-anchor="middle" fill="#222" color="#222" transform="translate(506.00 289.90) rotate(-90) scale(1.0 1.1)">0.4</text>
<line x1="579.84" y1="345.30" x2="579.84" y2="350.30" stroke="#333" stroke-width="0.8"/>
<text x="0" y="0" font-size="8.8" text-anchor="middle" fill="#222" color="#222" transform="translate(580.84 362.50) scale(1.0 1.1)">0.4</text>
<line x1="510.30" y1="265.80" x2="514.50" y2="265.80" stroke="#333" stroke-width="0.8"/>
<text x="0" y="0" font-size="8.4" text-anchor="middle" fill="#222" color="#222" transform="translate(506.00 265.10) rotate(-90) scale(1.0 1.1)">0.6</text>
<line x1="609.46" y1="345.30" x2="609.46" y2="350.30" stroke="#333" stroke-width="0.8"/>
<text x="0" y="0" font-size="8.8" text-anchor="middle" fill="#222" color="#222" transform="translate(610.46 362.50) scale(1.0 1.1)">0.6</text>
<line x1="510.30" y1="241.00" x2="514.50" y2="241.00" stroke="#333" stroke-width="0.8"/>
<text x="0" y="0" font-size="8.4" text-anchor="middle" fill="#222" color="#222" transform="translate(506.00 240.30) rotate(-90) scale(1.0 1.1)">0.8</text>
<line x1="639.08" y1="345.30" x2="639.08" y2="350.30" stroke="#333" stroke-width="0.8"/>
<text x="0" y="0" font-size="8.8" text-anchor="middle" fill="#222" color="#222" transform="translate(640.08 362.50) scale(1.0 1.1)">0.8</text>
<line x1="510.30" y1="216.20" x2="514.50" y2="216.20" stroke="#333" stroke-width="0.8"/>
<text x="0" y="0" font-size="8.4" text-anchor="middle" fill="#222" color="#222" transform="translate(506.00 215.50) rotate(-90) scale(1.0 1.1)">1.0</text>
<line x1="668.70" y1="345.30" x2="668.70" y2="350.30" stroke="#333" stroke-width="0.8"/>
<text x="0" y="0" font-size="8.8" text-anchor="middle" fill="#222" color="#222" transform="translate(669.70 362.50) scale(1.0 1.1)">1.0</text>
<text x="0" y="0" font-size="10.5" text-anchor="middle" fill="#222" color="#222" transform="translate(600.20 380.60) scale(1.0 1.1)">1−Specificity</text>
<text x="0" y="0" font-size="10.4" text-anchor="middle" fill="#222" color="#222" transform="translate(489.40 278.80) rotate(-90) scale(1.0 1.1)">Sensitivity</text>
<line x1="582.20" y1="319.60" x2="595.80" y2="319.60" stroke="#3FE36E" stroke-width="1.6"/>
<text x="0" y="0" font-size="7.1" text-anchor="start" fill="#222" color="#222" transform="translate(601.70 322.60) scale(1.0 1.1)">AUC at 1 years: 0.733</text>
<line x1="582.20" y1="328.10" x2="595.80" y2="328.10" stroke="#2A3AE0" stroke-width="1.6"/>
<text x="0" y="0" font-size="7.1" text-anchor="start" fill="#222" color="#222" transform="translate(601.70 331.10) scale(1.0 1.1)">AUC at 2 years: 0.700</text>
<line x1="582.20" y1="336.70" x2="595.80" y2="336.70" stroke="#F25A5A" stroke-width="1.6"/>
<text x="0" y="0" font-size="7.1" text-anchor="start" fill="#222" color="#222" transform="translate(601.70 339.70) scale(1.0 1.1)">AUC at 3 years: 0.722</text>
</svg></body></html>
